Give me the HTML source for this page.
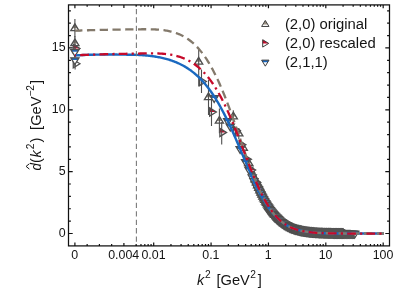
<!DOCTYPE html>
<html><head><meta charset="utf-8"><title>plot</title><style>html,body{margin:0;padding:0;background:#fff}body{width:395px;height:299px;overflow:hidden}svg{display:block;font-family:"Liberation Sans",sans-serif;will-change:transform}.n{fill:#fff;stroke:#3e3e3e;stroke-width:.95}.m{fill:#fff;stroke:#4e4e4e;stroke-width:1.3}.e{stroke:#4e4e4e;stroke-width:1.1;fill:none}.a{fill:#968c7e}.b{fill:#c60a2a}.c{fill:#1a69c0}.p{fill:#fff}</style></head><body>
<svg width="395" height="299" viewBox="0 0 395 299">
<defs><clipPath id="pl"><rect x="68.5" y="4.9" width="321.0" height="241.0"/></clipPath></defs>
<rect width="395" height="299" fill="#fff"/>
<g clip-path="url(#pl)"><path d="M252.0 172.17L253.0 174.63L254.0 177.06L255.0 179.44L256.0 181.77L257.0 184.06L258.0 186.30" fill="none" stroke="#545454" stroke-width="6" stroke-linecap="round"/><path d="M257.0 184.06L258.0 186.30L259.0 188.48L260.0 190.61L261.0 192.68L262.0 194.69L263.0 196.64L264.0 198.52L265.0 200.35L266.0 202.11L267.0 203.81L268.0 205.44L269.0 207.01L270.0 208.51L271.0 209.95L272.0 211.33L273.0 212.65L274.0 213.90" fill="none" stroke="#545454" stroke-width="8.2" stroke-linecap="round"/><path d="M273.0 212.65L274.0 213.90L275.0 215.10L276.0 216.24L277.0 217.32L278.0 218.34L279.0 219.32L280.0 220.24L281.0 221.11L282.0 221.93L283.0 222.71L284.0 223.44L285.0 224.13L286.0 224.78L287.0 225.39L288.0 225.96L289.0 226.50L290.0 227.01L291.0 227.48L292.0 227.92L293.0 228.33L294.0 228.72L295.0 229.08L296.0 229.41L297.0 229.73L298.0 230.02L299.0 230.29L300.0 230.54L301.0 230.78L302.0 231.00L303.0 231.20L304.0 231.39L305.0 231.56L306.0 231.72L307.0 231.87L308.0 232.01L309.0 232.14L310.0 232.26L311.0 232.37L312.0 232.47L313.0 232.56L314.0 232.65L315.0 232.73L316.0 232.80L317.0 232.87L318.0 232.93L319.0 232.98L320.0 233.04L321.0 233.08L322.0 233.13L323.0 233.17L324.0 233.20L325.0 233.24L326.0 233.27L327.0 233.30L328.0 233.32L329.0 233.34L330.0 233.37L331.0 233.38L332.0 233.40L333.0 233.42L334.0 233.43L335.0 233.44L336.0 233.46L337.0 233.47L338.0 233.48L339.0 233.48L340.0 233.49L341.0 233.50L342.0 233.51L343.0 233.51L344.0 233.52L345.0 233.52L346.0 233.52L347.0 233.53L348.0 233.53L349.0 233.53L350.0 233.53" fill="none" stroke="#545454" stroke-width="7.5" stroke-linecap="round"/><path d="M74.90 23.85l4.09 6.69h-8.17z" fill="#fff"/><path d="M74.90 23.85l2.72 4.45h-5.44z" fill="#968c7e"/><path d="M74.90 23.85l4.09 6.69h-8.17z" fill="none" stroke="#4e4e4e" stroke-width="1.3"/><path d="M74.90 38.95l4.09 6.69h-8.17z" fill="#fff"/><path d="M74.90 38.95l2.72 4.45h-5.44z" fill="#968c7e"/><path d="M74.90 38.95l4.09 6.69h-8.17z" fill="none" stroke="#4e4e4e" stroke-width="1.3"/><path d="M198.65 57.35l4.09 6.69h-8.17z" fill="#fff"/><path d="M198.65 57.35l2.72 4.45h-5.44z" fill="#968c7e"/><path d="M198.65 57.35l4.09 6.69h-8.17z" fill="none" stroke="#4e4e4e" stroke-width="1.3"/><path d="M208.50 92.85l4.09 6.69h-8.17z" fill="#fff"/><path d="M208.50 92.85l2.72 4.45h-5.44z" fill="#968c7e"/><path d="M208.50 92.85l4.09 6.69h-8.17z" fill="none" stroke="#4e4e4e" stroke-width="1.3"/><path d="M219.40 116.45l4.09 6.69h-8.17z" fill="#fff"/><path d="M219.40 116.45l2.72 4.45h-5.44z" fill="#968c7e"/><path d="M219.40 116.45l4.09 6.69h-8.17z" fill="none" stroke="#4e4e4e" stroke-width="1.3"/><path d="M233.30 112.15l4.09 6.69h-8.17z" fill="#fff"/><path d="M233.30 112.15l2.72 4.45h-5.44z" fill="#968c7e"/><path d="M233.30 112.15l4.09 6.69h-8.17z" fill="none" stroke="#4e4e4e" stroke-width="1.3"/><path d="M238.80 129.15l4.09 6.69h-8.17z" fill="#fff"/><path d="M238.80 129.15l2.72 4.45h-5.44z" fill="#968c7e"/><path d="M238.80 129.15l4.09 6.69h-8.17z" fill="none" stroke="#4e4e4e" stroke-width="1.3"/><path d="M243.31 143.55l4.09 6.69h-8.17z" fill="#fff"/><path d="M243.31 143.55l2.72 4.45h-5.44z" fill="#968c7e"/><path d="M243.31 143.55l4.09 6.69h-8.17z" fill="none" stroke="#4e4e4e" stroke-width="1.3"/><path d="M248.71 158.75l4.09 6.69h-8.17z" fill="#fff"/><path d="M248.71 158.75l2.72 4.45h-5.44z" fill="#968c7e"/><path d="M248.71 158.75l4.09 6.69h-8.17z" fill="none" stroke="#4e4e4e" stroke-width="1.3"/><path class="e" d="M74.9 18.9V37.5"/><path class="e" d="M74.9 36.0V50.0"/><path class="e" d="M198.7 49.0V86.5"/><path class="e" d="M208.5 80.0V115.0"/><path class="e" d="M219.4 108.4V133.2"/><path class="e" d="M233.3 110.3V122.6"/><path class="e" d="M238.8 128.0V139.3"/><path class="e" d="M243.3 145.0V151.0"/><path class="e" d="M248.7 160.2V166.2"/><path class="m" d="M255.05 175.18l4.09 6.69h-8.17z"/><path class="a" d="M255.05 176.24l2.07 3.39h-4.15z"/><path class="m" d="M256.33 178.24l4.09 6.69h-8.17z"/><path class="a" d="M256.33 179.30l2.07 3.39h-4.15z"/><path class="m" d="M257.54 181.06l4.09 6.69h-8.17z"/><path class="a" d="M257.54 182.12l2.07 3.39h-4.15z"/><path class="m" d="M258.70 183.66l4.09 6.69h-8.17z"/><path class="a" d="M258.70 184.73l2.07 3.39h-4.15z"/><path class="m" d="M259.81 186.07l4.09 6.69h-8.17z"/><path class="a" d="M259.81 187.13l2.07 3.39h-4.15z"/><path class="m" d="M260.87 188.30l4.09 6.69h-8.17z"/><path class="a" d="M260.87 189.36l2.07 3.39h-4.15z"/><path class="m" d="M261.89 190.37l4.09 6.69h-8.17z"/><path class="a" d="M261.89 191.43l2.07 3.39h-4.15z"/><path class="m" d="M262.86 192.30l4.09 6.69h-8.17z"/><path class="a" d="M262.86 193.36l2.07 3.39h-4.15z"/><path class="m" d="M263.81 194.08l4.09 6.69h-8.17z"/><path class="a" d="M263.81 195.15l2.07 3.39h-4.15z"/><path class="m" d="M264.71 195.75l4.09 6.69h-8.17z"/><path class="a" d="M264.71 196.81l2.07 3.39h-4.15z"/><path class="m" d="M265.59 197.31l4.09 6.69h-8.17z"/><path class="a" d="M265.59 198.37l2.07 3.39h-4.15z"/><path class="m" d="M266.43 198.76l4.09 6.69h-8.17z"/><path class="a" d="M266.43 199.82l2.07 3.39h-4.15z"/><path class="m" d="M267.25 200.12l4.09 6.69h-8.17z"/><path class="a" d="M267.25 201.18l2.07 3.39h-4.15z"/><path class="m" d="M268.04 201.39l4.09 6.69h-8.17z"/><path class="a" d="M268.04 202.46l2.07 3.39h-4.15z"/><path class="m" d="M268.80 202.59l4.09 6.69h-8.17z"/><path class="a" d="M268.80 203.65l2.07 3.39h-4.15z"/><path class="m" d="M269.55 203.71l4.09 6.69h-8.17z"/><path class="a" d="M269.55 204.77l2.07 3.39h-4.15z"/><path class="m" d="M270.27 204.77l4.09 6.69h-8.17z"/><path class="a" d="M270.27 205.83l2.07 3.39h-4.15z"/><path class="m" d="M270.97 205.76l4.09 6.69h-8.17z"/><path class="a" d="M270.97 206.82l2.07 3.39h-4.15z"/><path class="m" d="M271.66 206.69l4.09 6.69h-8.17z"/><path class="a" d="M271.66 207.76l2.07 3.39h-4.15z"/><path class="m" d="M272.32 207.58l4.09 6.69h-8.17z"/><path class="a" d="M272.32 208.64l2.07 3.39h-4.15z"/><path class="m" d="M272.97 208.41l4.09 6.69h-8.17z"/><path class="a" d="M272.97 209.47l2.07 3.39h-4.15z"/><path class="m" d="M273.60 209.20l4.09 6.69h-8.17z"/><path class="a" d="M273.60 210.26l2.07 3.39h-4.15z"/><path class="m" d="M274.21 209.94l4.09 6.69h-8.17z"/><path class="a" d="M274.21 211.00l2.07 3.39h-4.15z"/><path class="m" d="M274.81 210.64l4.09 6.69h-8.17z"/><path class="a" d="M274.81 211.71l2.07 3.39h-4.15z"/><path class="m" d="M275.97 211.95l4.09 6.69h-8.17z"/><path class="a" d="M275.97 213.01l2.07 3.39h-4.15z"/><path class="m" d="M277.08 213.12l4.09 6.69h-8.17z"/><path class="a" d="M277.08 214.18l2.07 3.39h-4.15z"/><path class="m" d="M278.14 214.18l4.09 6.69h-8.17z"/><path class="a" d="M278.14 215.24l2.07 3.39h-4.15z"/><path class="m" d="M279.16 215.14l4.09 6.69h-8.17z"/><path class="a" d="M279.16 216.20l2.07 3.39h-4.15z"/><path class="m" d="M280.13 216.01l4.09 6.69h-8.17z"/><path class="a" d="M280.13 217.08l2.07 3.39h-4.15z"/><path class="m" d="M281.08 216.81l4.09 6.69h-8.17z"/><path class="a" d="M281.08 217.87l2.07 3.39h-4.15z"/><path class="m" d="M281.98 217.54l4.09 6.69h-8.17z"/><path class="a" d="M281.98 218.60l2.07 3.39h-4.15z"/><path class="m" d="M282.86 218.21l4.09 6.69h-8.17z"/><path class="a" d="M282.86 219.27l2.07 3.39h-4.15z"/><path class="m" d="M283.70 218.82l4.09 6.69h-8.17z"/><path class="a" d="M283.70 219.88l2.07 3.39h-4.15z"/><path class="m" d="M284.52 219.38l4.09 6.69h-8.17z"/><path class="a" d="M284.52 220.45l2.07 3.39h-4.15z"/><path class="m" d="M285.31 219.91l4.09 6.69h-8.17z"/><path class="a" d="M285.31 220.97l2.07 3.39h-4.15z"/><path class="m" d="M286.07 220.39l4.09 6.69h-8.17z"/><path class="a" d="M286.07 221.45l2.07 3.39h-4.15z"/><path class="m" d="M286.82 220.83l4.09 6.69h-8.17z"/><path class="a" d="M286.82 221.89l2.07 3.39h-4.15z"/><path class="m" d="M287.54 221.25l4.09 6.69h-8.17z"/><path class="a" d="M287.54 222.31l2.07 3.39h-4.15z"/><path class="m" d="M288.24 221.63l4.09 6.69h-8.17z"/><path class="a" d="M288.24 222.69l2.07 3.39h-4.15z"/><path class="m" d="M288.93 221.99l4.09 6.69h-8.17z"/><path class="a" d="M288.93 223.05l2.07 3.39h-4.15z"/><path class="m" d="M289.59 222.32l4.09 6.69h-8.17z"/><path class="a" d="M289.59 223.38l2.07 3.39h-4.15z"/><path class="m" d="M290.24 222.63l4.09 6.69h-8.17z"/><path class="a" d="M290.24 223.69l2.07 3.39h-4.15z"/><path class="m" d="M290.87 222.92l4.09 6.69h-8.17z"/><path class="a" d="M290.87 223.98l2.07 3.39h-4.15z"/><path class="m" d="M291.48 223.19l4.09 6.69h-8.17z"/><path class="a" d="M291.48 224.26l2.07 3.39h-4.15z"/><path class="m" d="M292.08 223.45l4.09 6.69h-8.17z"/><path class="a" d="M292.08 224.51l2.07 3.39h-4.15z"/><path class="m" d="M292.96 223.80l4.09 6.69h-8.17z"/><path class="a" d="M292.96 224.87l2.07 3.39h-4.15z"/><path class="m" d="M293.80 224.13l4.09 6.69h-8.17z"/><path class="a" d="M293.80 225.19l2.07 3.39h-4.15z"/><path class="m" d="M294.62 224.42l4.09 6.69h-8.17z"/><path class="a" d="M294.62 225.48l2.07 3.39h-4.15z"/><path class="m" d="M295.41 224.69l4.09 6.69h-8.17z"/><path class="a" d="M295.41 225.76l2.07 3.39h-4.15z"/><path class="m" d="M296.18 224.94l4.09 6.69h-8.17z"/><path class="a" d="M296.18 226.00l2.07 3.39h-4.15z"/><path class="m" d="M296.92 225.17l4.09 6.69h-8.17z"/><path class="a" d="M296.92 226.23l2.07 3.39h-4.15z"/><path class="m" d="M297.64 225.38l4.09 6.69h-8.17z"/><path class="a" d="M297.64 226.44l2.07 3.39h-4.15z"/><path class="m" d="M298.35 225.58l4.09 6.69h-8.17z"/><path class="a" d="M298.35 226.64l2.07 3.39h-4.15z"/><path class="m" d="M299.03 225.76l4.09 6.69h-8.17z"/><path class="a" d="M299.03 226.82l2.07 3.39h-4.15z"/><path class="m" d="M299.69 225.93l4.09 6.69h-8.17z"/><path class="a" d="M299.69 226.99l2.07 3.39h-4.15z"/><path class="m" d="M300.34 226.08l4.09 6.69h-8.17z"/><path class="a" d="M300.34 227.14l2.07 3.39h-4.15z"/><path class="m" d="M300.97 226.23l4.09 6.69h-8.17z"/><path class="a" d="M300.97 227.29l2.07 3.39h-4.15z"/><path class="m" d="M301.59 226.36l4.09 6.69h-8.17z"/><path class="a" d="M301.59 227.43l2.07 3.39h-4.15z"/><path class="m" d="M302.19 226.49l4.09 6.69h-8.17z"/><path class="a" d="M302.19 227.55l2.07 3.39h-4.15z"/><path class="m" d="M302.96 226.65l4.09 6.69h-8.17z"/><path class="a" d="M302.96 227.71l2.07 3.39h-4.15z"/><path class="m" d="M303.72 226.79l4.09 6.69h-8.17z"/><path class="a" d="M303.72 227.85l2.07 3.39h-4.15z"/><path class="m" d="M304.45 226.92l4.09 6.69h-8.17z"/><path class="a" d="M304.45 227.98l2.07 3.39h-4.15z"/><path class="m" d="M305.16 227.04l4.09 6.69h-8.17z"/><path class="a" d="M305.16 228.10l2.07 3.39h-4.15z"/><path class="m" d="M305.86 227.15l4.09 6.69h-8.17z"/><path class="a" d="M305.86 228.21l2.07 3.39h-4.15z"/><path class="m" d="M306.53 227.26l4.09 6.69h-8.17z"/><path class="a" d="M306.53 228.32l2.07 3.39h-4.15z"/><path class="m" d="M307.19 227.35l4.09 6.69h-8.17z"/><path class="a" d="M307.19 228.41l2.07 3.39h-4.15z"/><path class="m" d="M307.82 227.44l4.09 6.69h-8.17z"/><path class="a" d="M307.82 228.50l2.07 3.39h-4.15z"/><path class="m" d="M308.45 227.52l4.09 6.69h-8.17z"/><path class="a" d="M308.45 228.58l2.07 3.39h-4.15z"/><path class="m" d="M309.06 227.60l4.09 6.69h-8.17z"/><path class="a" d="M309.06 228.66l2.07 3.39h-4.15z"/><path class="m" d="M309.79 227.69l4.09 6.69h-8.17z"/><path class="a" d="M309.79 228.75l2.07 3.39h-4.15z"/><path class="m" d="M310.51 227.77l4.09 6.69h-8.17z"/><path class="a" d="M310.51 228.83l2.07 3.39h-4.15z"/><path class="m" d="M311.21 227.85l4.09 6.69h-8.17z"/><path class="a" d="M311.21 228.91l2.07 3.39h-4.15z"/><path class="m" d="M311.89 227.91l4.09 6.69h-8.17z"/><path class="a" d="M311.89 228.98l2.07 3.39h-4.15z"/><path class="m" d="M312.55 227.98l4.09 6.69h-8.17z"/><path class="a" d="M312.55 229.04l2.07 3.39h-4.15z"/><path class="m" d="M313.19 228.04l4.09 6.69h-8.17z"/><path class="a" d="M313.19 229.10l2.07 3.39h-4.15z"/><path class="m" d="M313.82 228.09l4.09 6.69h-8.17z"/><path class="a" d="M313.82 229.15l2.07 3.39h-4.15z"/><path class="m" d="M314.43 228.14l4.09 6.69h-8.17z"/><path class="a" d="M314.43 229.20l2.07 3.39h-4.15z"/><path class="m" d="M315.15 228.20l4.09 6.69h-8.17z"/><path class="a" d="M315.15 229.26l2.07 3.39h-4.15z"/><path class="m" d="M315.84 228.25l4.09 6.69h-8.17z"/><path class="a" d="M315.84 229.31l2.07 3.39h-4.15z"/><path class="m" d="M316.52 228.30l4.09 6.69h-8.17z"/><path class="a" d="M316.52 229.36l2.07 3.39h-4.15z"/><path class="m" d="M317.18 228.34l4.09 6.69h-8.17z"/><path class="a" d="M317.18 229.40l2.07 3.39h-4.15z"/><path class="m" d="M317.82 228.38l4.09 6.69h-8.17z"/><path class="a" d="M317.82 229.44l2.07 3.39h-4.15z"/><path class="m" d="M318.45 228.42l4.09 6.69h-8.17z"/><path class="a" d="M318.45 229.48l2.07 3.39h-4.15z"/><path class="m" d="M319.06 228.46l4.09 6.69h-8.17z"/><path class="a" d="M319.06 229.52l2.07 3.39h-4.15z"/><path class="m" d="M319.75 228.49l4.09 6.69h-8.17z"/><path class="a" d="M319.75 229.55l2.07 3.39h-4.15z"/><path class="m" d="M320.43 228.53l4.09 6.69h-8.17z"/><path class="a" d="M320.43 229.59l2.07 3.39h-4.15z"/><path class="m" d="M321.08 228.56l4.09 6.69h-8.17z"/><path class="a" d="M321.08 229.62l2.07 3.39h-4.15z"/><path class="m" d="M321.72 228.59l4.09 6.69h-8.17z"/><path class="a" d="M321.72 229.65l2.07 3.39h-4.15z"/><path class="m" d="M322.35 228.62l4.09 6.69h-8.17z"/><path class="a" d="M322.35 229.68l2.07 3.39h-4.15z"/><path class="m" d="M322.96 228.64l4.09 6.69h-8.17z"/><path class="a" d="M322.96 229.70l2.07 3.39h-4.15z"/><path class="m" d="M323.63 228.67l4.09 6.69h-8.17z"/><path class="a" d="M323.63 229.73l2.07 3.39h-4.15z"/><path class="m" d="M324.29 228.69l4.09 6.69h-8.17z"/><path class="a" d="M324.29 229.75l2.07 3.39h-4.15z"/><path class="m" d="M324.94 228.72l4.09 6.69h-8.17z"/><path class="a" d="M324.94 229.78l2.07 3.39h-4.15z"/><path class="m" d="M325.56 228.74l4.09 6.69h-8.17z"/><path class="a" d="M325.56 229.80l2.07 3.39h-4.15z"/><path class="m" d="M326.17 228.76l4.09 6.69h-8.17z"/><path class="a" d="M326.17 229.82l2.07 3.39h-4.15z"/><path class="m" d="M326.85 228.78l4.09 6.69h-8.17z"/><path class="a" d="M326.85 229.84l2.07 3.39h-4.15z"/><path class="m" d="M327.50 228.79l4.09 6.69h-8.17z"/><path class="a" d="M327.50 229.85l2.07 3.39h-4.15z"/><path class="m" d="M328.13 228.81l4.09 6.69h-8.17z"/><path class="a" d="M328.13 229.87l2.07 3.39h-4.15z"/><path class="m" d="M328.75 228.83l4.09 6.69h-8.17z"/><path class="a" d="M328.75 229.89l2.07 3.39h-4.15z"/><path class="m" d="M329.36 228.84l4.09 6.69h-8.17z"/><path class="a" d="M329.36 229.90l2.07 3.39h-4.15z"/><path class="m" d="M330.02 228.86l4.09 6.69h-8.17z"/><path class="a" d="M330.02 229.92l2.07 3.39h-4.15z"/><path class="m" d="M330.65 228.87l4.09 6.69h-8.17z"/><path class="a" d="M330.65 229.93l2.07 3.39h-4.15z"/><path class="m" d="M331.28 228.88l4.09 6.69h-8.17z"/><path class="a" d="M331.28 229.94l2.07 3.39h-4.15z"/><path class="m" d="M331.89 228.89l4.09 6.69h-8.17z"/><path class="a" d="M331.89 229.95l2.07 3.39h-4.15z"/><path class="m" d="M332.54 228.90l4.09 6.69h-8.17z"/><path class="a" d="M332.54 229.97l2.07 3.39h-4.15z"/><path class="m" d="M333.17 228.92l4.09 6.69h-8.17z"/><path class="a" d="M333.17 229.98l2.07 3.39h-4.15z"/><path class="m" d="M333.79 228.93l4.09 6.69h-8.17z"/><path class="a" d="M333.79 229.99l2.07 3.39h-4.15z"/><path class="m" d="M334.40 228.93l4.09 6.69h-8.17z"/><path class="a" d="M334.40 230.00l2.07 3.39h-4.15z"/><path class="m" d="M335.04 228.94l4.09 6.69h-8.17z"/><path class="a" d="M335.04 230.01l2.07 3.39h-4.15z"/><path class="m" d="M335.67 228.95l4.09 6.69h-8.17z"/><path class="a" d="M335.67 230.01l2.07 3.39h-4.15z"/><path class="m" d="M336.28 228.96l4.09 6.69h-8.17z"/><path class="a" d="M336.28 230.02l2.07 3.39h-4.15z"/><path class="m" d="M336.92 228.97l4.09 6.69h-8.17z"/><path class="a" d="M336.92 230.03l2.07 3.39h-4.15z"/><path class="m" d="M337.55 228.97l4.09 6.69h-8.17z"/><path class="a" d="M337.55 230.04l2.07 3.39h-4.15z"/><path class="m" d="M338.17 228.98l4.09 6.69h-8.17z"/><path class="a" d="M338.17 230.04l2.07 3.39h-4.15z"/><path class="m" d="M338.81 228.99l4.09 6.69h-8.17z"/><path class="a" d="M338.81 230.05l2.07 3.39h-4.15z"/><path class="m" d="M339.44 228.99l4.09 6.69h-8.17z"/><path class="a" d="M339.44 230.05l2.07 3.39h-4.15z"/><path class="m" d="M340.05 229.00l4.09 6.69h-8.17z"/><path class="a" d="M340.05 230.06l2.07 3.39h-4.15z"/><path class="m" d="M340.69 229.00l4.09 6.69h-8.17z"/><path class="a" d="M340.69 230.07l2.07 3.39h-4.15z"/><path class="m" d="M341.32 229.01l4.09 6.69h-8.17z"/><path class="a" d="M341.32 230.07l2.07 3.39h-4.15z"/><path class="m" d="M341.93 229.01l4.09 6.69h-8.17z"/><path class="a" d="M341.93 230.07l2.07 3.39h-4.15z"/><path class="m" d="M342.56 229.02l4.09 6.69h-8.17z"/><path class="a" d="M342.56 230.08l2.07 3.39h-4.15z"/><path class="m" d="M343.18 229.02l4.09 6.69h-8.17z"/><path class="a" d="M343.18 230.08l2.07 3.39h-4.15z"/><path d="M73.27 44.41l6.69 4.09l-6.69 4.09z" fill="#fff"/><path d="M73.27 44.41l6.69 4.09h-6.69z" fill="#c60a2a"/><path d="M73.27 44.41l6.69 4.09l-6.69 4.09z" fill="none" stroke="#4e4e4e" stroke-width="1.3"/><path d="M73.27 59.71l6.69 4.09l-6.69 4.09z" fill="#fff"/><path d="M73.27 59.71l6.69 4.09l-6.69 4.09z" fill="none" stroke="#4e4e4e" stroke-width="1.3"/><path d="M199.67 77.41l6.69 4.09l-6.69 4.09z" fill="#fff"/><path d="M199.67 77.41l6.69 4.09l-6.69 4.09z" fill="none" stroke="#4e4e4e" stroke-width="1.3"/><path d="M209.67 107.91l6.69 4.09l-6.69 4.09z" fill="#fff"/><path d="M209.67 107.91l6.69 4.09h-6.69z" fill="#c60a2a"/><path d="M209.67 107.91l6.69 4.09l-6.69 4.09z" fill="none" stroke="#4e4e4e" stroke-width="1.3"/><path d="M219.87 128.31l6.69 4.09l-6.69 4.09z" fill="#fff"/><path d="M219.87 128.31l6.69 4.09h-6.69z" fill="#c60a2a"/><path d="M219.87 128.31l6.69 4.09l-6.69 4.09z" fill="none" stroke="#4e4e4e" stroke-width="1.3"/><path d="M233.65 126.41l6.69 4.09l-6.69 4.09z" fill="#fff"/><path d="M233.65 126.41l6.69 4.09h-6.69z" fill="#c60a2a"/><path d="M233.65 126.41l6.69 4.09l-6.69 4.09z" fill="none" stroke="#4e4e4e" stroke-width="1.3"/><path d="M239.15 140.61l6.69 4.09l-6.69 4.09z" fill="#fff"/><path d="M239.15 140.61l6.69 4.09h-6.69z" fill="#c60a2a"/><path d="M239.15 140.61l6.69 4.09l-6.69 4.09z" fill="none" stroke="#4e4e4e" stroke-width="1.3"/><path d="M244.72 155.21l6.69 4.09l-6.69 4.09z" fill="#fff"/><path d="M244.72 155.21l6.69 4.09h-6.69z" fill="#c60a2a"/><path d="M244.72 155.21l6.69 4.09l-6.69 4.09z" fill="none" stroke="#4e4e4e" stroke-width="1.3"/><path d="M248.90 165.91l6.69 4.09l-6.69 4.09z" fill="#fff"/><path d="M248.90 165.91l6.69 4.09h-6.69z" fill="#c60a2a"/><path d="M248.90 165.91l6.69 4.09l-6.69 4.09z" fill="none" stroke="#4e4e4e" stroke-width="1.3"/><path d="M254.04 178.31l6.69 4.09l-6.69 4.09z" fill="#fff"/><path d="M254.04 178.31l6.69 4.09h-6.69z" fill="#c60a2a"/><path d="M254.04 178.31l6.69 4.09l-6.69 4.09z" fill="none" stroke="#4e4e4e" stroke-width="1.3"/><path class="e" d="M75.1 44.0V53.0"/><path class="e" d="M75.1 58.0V69.5"/><path class="e" d="M201.5 69.5V93.0"/><path class="e" d="M211.5 98.0V126.0"/><path class="e" d="M221.7 122.0V144.5"/><path class="e" d="M235.5 127.5V133.5"/><path class="e" d="M241.0 141.7V147.7"/><path class="e" d="M246.6 156.3V162.3"/><path class="e" d="M250.7 167.0V173.0"/><path class="e" d="M255.9 179.4V185.4"/><path class="m" d="M255.82 182.32l6.69 4.09l-6.69 4.09z"/><path class="b" d="M256.35 183.30l5.09 3.11h-5.09z"/><path class="m" d="M257.10 185.10l6.69 4.09l-6.69 4.09z"/><path class="b" d="M257.63 186.07l5.09 3.11h-5.09z"/><path class="m" d="M258.31 187.65l6.69 4.09l-6.69 4.09z"/><path class="b" d="M258.85 188.63l5.09 3.11h-5.09z"/><path class="m" d="M259.47 190.01l6.69 4.09l-6.69 4.09z"/><path class="b" d="M260.01 190.98l5.09 3.11h-5.09z"/><path class="m" d="M260.58 192.18l6.69 4.09l-6.69 4.09z"/><path class="b" d="M261.11 193.16l5.09 3.11h-5.09z"/><path class="m" d="M261.64 194.20l6.69 4.09l-6.69 4.09z"/><path class="b" d="M262.17 195.17l5.09 3.11h-5.09z"/><path class="m" d="M262.65 196.06l6.69 4.09l-6.69 4.09z"/><path class="b" d="M263.19 197.04l5.09 3.11h-5.09z"/><path class="m" d="M263.63 197.79l6.69 4.09l-6.69 4.09z"/><path class="b" d="M264.17 198.76l5.09 3.11h-5.09z"/><path class="m" d="M264.57 199.39l6.69 4.09l-6.69 4.09z"/><path class="b" d="M265.11 200.37l5.09 3.11h-5.09z"/><path class="m" d="M265.48 200.89l6.69 4.09l-6.69 4.09z"/><path class="b" d="M266.02 201.86l5.09 3.11h-5.09z"/><path class="m" d="M266.35 202.28l6.69 4.09l-6.69 4.09z"/><path class="b" d="M266.89 203.25l5.09 3.11h-5.09z"/><path class="m" d="M267.20 203.57l6.69 4.09l-6.69 4.09z"/><path class="b" d="M267.73 204.55l5.09 3.11h-5.09z"/><path class="m" d="M268.01 204.79l6.69 4.09l-6.69 4.09z"/><path class="b" d="M268.55 205.76l5.09 3.11h-5.09z"/><path class="m" d="M268.81 205.92l6.69 4.09l-6.69 4.09z"/><path class="b" d="M269.34 206.89l5.09 3.11h-5.09z"/><path class="m" d="M269.57 206.98l6.69 4.09l-6.69 4.09z"/><path class="b" d="M270.11 207.95l5.09 3.11h-5.09z"/><path class="m" d="M270.32 207.97l6.69 4.09l-6.69 4.09z"/><path class="b" d="M270.85 208.95l5.09 3.11h-5.09z"/><path class="m" d="M271.04 208.91l6.69 4.09l-6.69 4.09z"/><path class="b" d="M271.58 209.88l5.09 3.11h-5.09z"/><path class="m" d="M271.74 209.78l6.69 4.09l-6.69 4.09z"/><path class="b" d="M272.28 210.76l5.09 3.11h-5.09z"/><path class="m" d="M272.42 210.61l6.69 4.09l-6.69 4.09z"/><path class="b" d="M272.96 211.58l5.09 3.11h-5.09z"/><path class="m" d="M273.09 211.38l6.69 4.09l-6.69 4.09z"/><path class="b" d="M273.62 212.36l5.09 3.11h-5.09z"/><path class="m" d="M273.73 212.11l6.69 4.09l-6.69 4.09z"/><path class="b" d="M274.27 213.09l5.09 3.11h-5.09z"/><path class="m" d="M274.37 212.80l6.69 4.09l-6.69 4.09z"/><path class="b" d="M274.90 213.78l5.09 3.11h-5.09z"/><path class="m" d="M274.98 213.45l6.69 4.09l-6.69 4.09z"/><path class="b" d="M275.52 214.43l5.09 3.11h-5.09z"/><path class="m" d="M275.58 214.07l6.69 4.09l-6.69 4.09z"/><path class="b" d="M276.12 215.05l5.09 3.11h-5.09z"/><path class="m" d="M276.74 215.20l6.69 4.09l-6.69 4.09z"/><path class="b" d="M277.28 216.18l5.09 3.11h-5.09z"/><path class="m" d="M277.85 216.22l6.69 4.09l-6.69 4.09z"/><path class="b" d="M278.38 217.20l5.09 3.11h-5.09z"/><path class="m" d="M278.91 217.14l6.69 4.09l-6.69 4.09z"/><path class="b" d="M279.44 218.12l5.09 3.11h-5.09z"/><path class="m" d="M279.92 217.97l6.69 4.09l-6.69 4.09z"/><path class="b" d="M280.46 218.95l5.09 3.11h-5.09z"/><path class="m" d="M280.90 218.72l6.69 4.09l-6.69 4.09z"/><path class="b" d="M281.44 219.70l5.09 3.11h-5.09z"/><path class="m" d="M281.84 219.41l6.69 4.09l-6.69 4.09z"/><path class="b" d="M282.38 220.38l5.09 3.11h-5.09z"/><path class="m" d="M282.75 220.03l6.69 4.09l-6.69 4.09z"/><path class="b" d="M283.29 221.01l5.09 3.11h-5.09z"/><path class="m" d="M283.62 220.60l6.69 4.09l-6.69 4.09z"/><path class="b" d="M284.16 221.58l5.09 3.11h-5.09z"/><path class="m" d="M284.47 221.13l6.69 4.09l-6.69 4.09z"/><path class="b" d="M285.00 222.10l5.09 3.11h-5.09z"/><path class="m" d="M285.28 221.60l6.69 4.09l-6.69 4.09z"/><path class="b" d="M285.82 222.58l5.09 3.11h-5.09z"/><path class="m" d="M286.08 222.05l6.69 4.09l-6.69 4.09z"/><path class="b" d="M286.61 223.02l5.09 3.11h-5.09z"/><path class="m" d="M286.84 222.45l6.69 4.09l-6.69 4.09z"/><path class="b" d="M287.38 223.43l5.09 3.11h-5.09z"/><path class="m" d="M287.59 222.83l6.69 4.09l-6.69 4.09z"/><path class="b" d="M288.12 223.81l5.09 3.11h-5.09z"/><path class="m" d="M288.31 223.18l6.69 4.09l-6.69 4.09z"/><path class="b" d="M288.85 224.15l5.09 3.11h-5.09z"/><path class="m" d="M289.01 223.50l6.69 4.09l-6.69 4.09z"/><path class="b" d="M289.55 224.48l5.09 3.11h-5.09z"/><path class="m" d="M289.69 223.80l6.69 4.09l-6.69 4.09z"/><path class="b" d="M290.23 224.78l5.09 3.11h-5.09z"/><path class="m" d="M290.36 224.08l6.69 4.09l-6.69 4.09z"/><path class="b" d="M290.89 225.05l5.09 3.11h-5.09z"/><path class="m" d="M291.00 224.34l6.69 4.09l-6.69 4.09z"/><path class="b" d="M291.54 225.31l5.09 3.11h-5.09z"/><path class="m" d="M291.64 224.58l6.69 4.09l-6.69 4.09z"/><path class="b" d="M292.17 225.56l5.09 3.11h-5.09z"/><path class="m" d="M292.25 224.81l6.69 4.09l-6.69 4.09z"/><path class="b" d="M292.79 225.78l5.09 3.11h-5.09z"/><path class="m" d="M292.85 225.02l6.69 4.09l-6.69 4.09z"/><path class="b" d="M293.39 226.00l5.09 3.11h-5.09z"/><path class="m" d="M293.73 225.31l6.69 4.09l-6.69 4.09z"/><path class="b" d="M294.26 226.29l5.09 3.11h-5.09z"/><path class="m" d="M294.57 225.58l6.69 4.09l-6.69 4.09z"/><path class="b" d="M295.11 226.56l5.09 3.11h-5.09z"/><path class="m" d="M295.39 225.82l6.69 4.09l-6.69 4.09z"/><path class="b" d="M295.92 226.80l5.09 3.11h-5.09z"/><path class="m" d="M296.18 226.05l6.69 4.09l-6.69 4.09z"/><path class="b" d="M296.71 227.02l5.09 3.11h-5.09z"/><path class="m" d="M296.94 226.25l6.69 4.09l-6.69 4.09z"/><path class="b" d="M297.48 227.23l5.09 3.11h-5.09z"/><path class="m" d="M297.69 226.44l6.69 4.09l-6.69 4.09z"/><path class="b" d="M298.23 227.41l5.09 3.11h-5.09z"/><path class="m" d="M298.41 226.61l6.69 4.09l-6.69 4.09z"/><path class="b" d="M298.95 227.59l5.09 3.11h-5.09z"/><path class="m" d="M299.11 226.77l6.69 4.09l-6.69 4.09z"/><path class="b" d="M299.65 227.74l5.09 3.11h-5.09z"/><path class="m" d="M299.80 226.92l6.69 4.09l-6.69 4.09z"/><path class="b" d="M300.33 227.89l5.09 3.11h-5.09z"/><path class="m" d="M300.46 227.05l6.69 4.09l-6.69 4.09z"/><path class="b" d="M301.00 228.03l5.09 3.11h-5.09z"/><path class="m" d="M301.11 227.18l6.69 4.09l-6.69 4.09z"/><path class="b" d="M301.64 228.15l5.09 3.11h-5.09z"/><path class="m" d="M301.74 227.29l6.69 4.09l-6.69 4.09z"/><path class="b" d="M302.27 228.27l5.09 3.11h-5.09z"/><path class="m" d="M302.35 227.40l6.69 4.09l-6.69 4.09z"/><path class="b" d="M302.89 228.38l5.09 3.11h-5.09z"/><path class="m" d="M302.95 227.51l6.69 4.09l-6.69 4.09z"/><path class="b" d="M303.49 228.48l5.09 3.11h-5.09z"/><path class="m" d="M303.73 227.63l6.69 4.09l-6.69 4.09z"/><path class="b" d="M304.27 228.61l5.09 3.11h-5.09z"/><path class="m" d="M304.49 227.74l6.69 4.09l-6.69 4.09z"/><path class="b" d="M305.02 228.72l5.09 3.11h-5.09z"/><path class="m" d="M305.22 227.85l6.69 4.09l-6.69 4.09z"/><path class="b" d="M305.76 228.83l5.09 3.11h-5.09z"/><path class="m" d="M305.93 227.95l6.69 4.09l-6.69 4.09z"/><path class="b" d="M306.47 228.92l5.09 3.11h-5.09z"/><path class="m" d="M306.62 228.03l6.69 4.09l-6.69 4.09z"/><path class="b" d="M307.16 229.01l5.09 3.11h-5.09z"/><path class="m" d="M307.30 228.12l6.69 4.09l-6.69 4.09z"/><path class="b" d="M307.83 229.09l5.09 3.11h-5.09z"/><path class="m" d="M307.95 228.19l6.69 4.09l-6.69 4.09z"/><path class="b" d="M308.49 229.17l5.09 3.11h-5.09z"/><path class="m" d="M308.59 228.26l6.69 4.09l-6.69 4.09z"/><path class="b" d="M309.13 229.24l5.09 3.11h-5.09z"/><path class="m" d="M309.21 228.33l6.69 4.09l-6.69 4.09z"/><path class="b" d="M309.75 229.30l5.09 3.11h-5.09z"/><path class="m" d="M309.82 228.39l6.69 4.09l-6.69 4.09z"/><path class="b" d="M310.36 229.36l5.09 3.11h-5.09z"/><path class="m" d="M310.56 228.45l6.69 4.09l-6.69 4.09z"/><path class="b" d="M311.10 229.43l5.09 3.11h-5.09z"/><path class="m" d="M311.28 228.52l6.69 4.09l-6.69 4.09z"/><path class="b" d="M311.82 229.49l5.09 3.11h-5.09z"/><path class="m" d="M311.98 228.58l6.69 4.09l-6.69 4.09z"/><path class="b" d="M312.51 229.55l5.09 3.11h-5.09z"/><path class="m" d="M312.66 228.63l6.69 4.09l-6.69 4.09z"/><path class="b" d="M313.19 229.61l5.09 3.11h-5.09z"/><path class="m" d="M313.32 228.68l6.69 4.09l-6.69 4.09z"/><path class="b" d="M313.85 229.66l5.09 3.11h-5.09z"/><path class="m" d="M313.96 228.72l6.69 4.09l-6.69 4.09z"/><path class="b" d="M314.50 229.70l5.09 3.11h-5.09z"/><path class="m" d="M314.59 228.77l6.69 4.09l-6.69 4.09z"/><path class="b" d="M315.13 229.74l5.09 3.11h-5.09z"/><path class="m" d="M315.20 228.81l6.69 4.09l-6.69 4.09z"/><path class="b" d="M315.74 229.78l5.09 3.11h-5.09z"/><path class="m" d="M315.92 228.85l6.69 4.09l-6.69 4.09z"/><path class="b" d="M316.45 229.82l5.09 3.11h-5.09z"/><path class="m" d="M316.61 228.89l6.69 4.09l-6.69 4.09z"/><path class="b" d="M317.15 229.86l5.09 3.11h-5.09z"/><path class="m" d="M317.29 228.92l6.69 4.09l-6.69 4.09z"/><path class="b" d="M317.83 229.90l5.09 3.11h-5.09z"/><path class="m" d="M317.95 228.96l6.69 4.09l-6.69 4.09z"/><path class="b" d="M318.48 229.93l5.09 3.11h-5.09z"/><path class="m" d="M318.59 228.99l6.69 4.09l-6.69 4.09z"/><path class="b" d="M319.13 229.96l5.09 3.11h-5.09z"/><path class="m" d="M319.21 229.02l6.69 4.09l-6.69 4.09z"/><path class="b" d="M319.75 229.99l5.09 3.11h-5.09z"/><path class="m" d="M319.82 229.04l6.69 4.09l-6.69 4.09z"/><path class="b" d="M320.36 230.02l5.09 3.11h-5.09z"/><path class="m" d="M320.52 229.07l6.69 4.09l-6.69 4.09z"/><path class="b" d="M321.06 230.05l5.09 3.11h-5.09z"/><path class="m" d="M321.19 229.10l6.69 4.09l-6.69 4.09z"/><path class="b" d="M321.73 230.07l5.09 3.11h-5.09z"/><path class="m" d="M321.85 229.12l6.69 4.09l-6.69 4.09z"/><path class="b" d="M322.39 230.10l5.09 3.11h-5.09z"/><path class="m" d="M322.49 229.14l6.69 4.09l-6.69 4.09z"/><path class="b" d="M323.03 230.12l5.09 3.11h-5.09z"/><path class="m" d="M323.11 229.16l6.69 4.09l-6.69 4.09z"/><path class="b" d="M323.65 230.14l5.09 3.11h-5.09z"/><path class="m" d="M323.72 229.18l6.69 4.09l-6.69 4.09z"/><path class="b" d="M324.26 230.16l5.09 3.11h-5.09z"/><path class="m" d="M324.40 229.20l6.69 4.09l-6.69 4.09z"/><path class="b" d="M324.94 230.17l5.09 3.11h-5.09z"/><path class="m" d="M325.06 229.22l6.69 4.09l-6.69 4.09z"/><path class="b" d="M325.60 230.19l5.09 3.11h-5.09z"/><path class="m" d="M325.70 229.23l6.69 4.09l-6.69 4.09z"/><path class="b" d="M326.24 230.21l5.09 3.11h-5.09z"/><path class="m" d="M326.33 229.25l6.69 4.09l-6.69 4.09z"/><path class="b" d="M326.87 230.22l5.09 3.11h-5.09z"/><path class="m" d="M326.94 229.26l6.69 4.09l-6.69 4.09z"/><path class="b" d="M327.48 230.24l5.09 3.11h-5.09z"/><path class="m" d="M327.61 229.28l6.69 4.09l-6.69 4.09z"/><path class="b" d="M328.15 230.25l5.09 3.11h-5.09z"/><path class="m" d="M328.27 229.29l6.69 4.09l-6.69 4.09z"/><path class="b" d="M328.80 230.26l5.09 3.11h-5.09z"/><path class="m" d="M328.90 229.30l6.69 4.09l-6.69 4.09z"/><path class="b" d="M329.44 230.28l5.09 3.11h-5.09z"/><path class="m" d="M329.52 229.31l6.69 4.09l-6.69 4.09z"/><path class="b" d="M330.06 230.29l5.09 3.11h-5.09z"/><path class="m" d="M330.13 229.32l6.69 4.09l-6.69 4.09z"/><path class="b" d="M330.66 230.30l5.09 3.11h-5.09z"/><path class="m" d="M330.78 229.33l6.69 4.09l-6.69 4.09z"/><path class="b" d="M331.32 230.31l5.09 3.11h-5.09z"/><path class="m" d="M331.42 229.34l6.69 4.09l-6.69 4.09z"/><path class="b" d="M331.96 230.32l5.09 3.11h-5.09z"/><path class="m" d="M332.04 229.35l6.69 4.09l-6.69 4.09z"/><path class="b" d="M332.58 230.32l5.09 3.11h-5.09z"/><path class="m" d="M332.65 229.36l6.69 4.09l-6.69 4.09z"/><path class="b" d="M333.19 230.33l5.09 3.11h-5.09z"/><path class="m" d="M333.30 229.36l6.69 4.09l-6.69 4.09z"/><path class="b" d="M333.84 230.34l5.09 3.11h-5.09z"/><path class="m" d="M333.94 229.37l6.69 4.09l-6.69 4.09z"/><path class="b" d="M334.48 230.35l5.09 3.11h-5.09z"/><path class="m" d="M334.56 229.38l6.69 4.09l-6.69 4.09z"/><path class="b" d="M335.10 230.35l5.09 3.11h-5.09z"/><path class="m" d="M335.16 229.38l6.69 4.09l-6.69 4.09z"/><path class="b" d="M335.70 230.36l5.09 3.11h-5.09z"/><path class="m" d="M335.81 229.39l6.69 4.09l-6.69 4.09z"/><path class="b" d="M336.34 230.37l5.09 3.11h-5.09z"/><path class="m" d="M336.43 229.40l6.69 4.09l-6.69 4.09z"/><path class="b" d="M336.97 230.37l5.09 3.11h-5.09z"/><path class="m" d="M337.04 229.40l6.69 4.09l-6.69 4.09z"/><path class="b" d="M337.58 230.38l5.09 3.11h-5.09z"/><path class="m" d="M337.69 229.40l6.69 4.09l-6.69 4.09z"/><path class="b" d="M338.23 230.38l5.09 3.11h-5.09z"/><path class="m" d="M338.32 229.41l6.69 4.09l-6.69 4.09z"/><path class="b" d="M338.86 230.39l5.09 3.11h-5.09z"/><path class="m" d="M338.93 229.41l6.69 4.09l-6.69 4.09z"/><path class="b" d="M339.47 230.39l5.09 3.11h-5.09z"/><path class="m" d="M339.58 229.42l6.69 4.09l-6.69 4.09z"/><path class="b" d="M340.12 230.39l5.09 3.11h-5.09z"/><path class="m" d="M340.21 229.42l6.69 4.09l-6.69 4.09z"/><path class="b" d="M340.74 230.40l5.09 3.11h-5.09z"/><path class="m" d="M340.82 229.42l6.69 4.09l-6.69 4.09z"/><path class="b" d="M341.36 230.40l5.09 3.11h-5.09z"/><path class="m" d="M341.46 229.43l6.69 4.09l-6.69 4.09z"/><path class="b" d="M342.00 230.40l5.09 3.11h-5.09z"/><path class="m" d="M342.09 229.43l6.69 4.09l-6.69 4.09z"/><path class="b" d="M342.62 230.41l5.09 3.11h-5.09z"/><path class="m" d="M342.69 229.43l6.69 4.09l-6.69 4.09z"/><path class="b" d="M343.23 230.41l5.09 3.11h-5.09z"/><path class="m" d="M343.33 229.43l6.69 4.09l-6.69 4.09z"/><path class="b" d="M343.87 230.41l5.09 3.11h-5.09z"/><path class="m" d="M343.95 229.44l6.69 4.09l-6.69 4.09z"/><path class="b" d="M344.48 230.41l5.09 3.11h-5.09z"/><path class="e" d="M74.9 47.0V57.0"/><path class="e" d="M74.9 55.0V66.0"/><path class="e" d="M214.2 95.0V101.0"/><path class="e" d="M227.7 118.5V123.5"/><path class="e" d="M230.3 124.0V129.0"/><path class="e" d="M240.1 146.5V151.5"/><path class="e" d="M245.6 159.5V164.5"/><path class="e" d="M248.9 167.0V172.0"/><path d="M70.81 49.57h8.17l-4.09 6.69z" fill="#fff"/><path d="M70.81 49.57h8.17l-1.37 2.23h-5.44z" fill="#1a69c0"/><path d="M70.81 49.57h8.17l-4.09 6.69z" fill="none" stroke="#4e4e4e" stroke-width="1.3"/><path d="M70.81 57.87h8.17l-4.09 6.69z" fill="#fff"/><path d="M70.81 57.87h8.17l-1.37 2.23h-5.44z" fill="#1a69c0"/><path d="M70.81 57.87h8.17l-4.09 6.69z" fill="none" stroke="#4e4e4e" stroke-width="1.3"/><path d="M210.11 95.77h8.17l-4.09 6.69z" fill="#fff"/><path d="M210.11 95.77h8.17l-1.37 2.23h-5.44z" fill="#1a69c0"/><path d="M210.11 95.77h8.17l-4.09 6.69z" fill="none" stroke="#4e4e4e" stroke-width="1.3"/><path d="M223.60 118.77h8.17l-4.09 6.69z" fill="#fff"/><path d="M223.60 118.77h8.17l-1.37 2.23h-5.44z" fill="#1a69c0"/><path d="M223.60 118.77h8.17l-4.09 6.69z" fill="none" stroke="#4e4e4e" stroke-width="1.3"/><path d="M226.19 124.27h8.17l-4.09 6.69z" fill="#fff"/><path d="M226.19 124.27h8.17l-1.37 2.23h-5.44z" fill="#1a69c0"/><path d="M226.19 124.27h8.17l-4.09 6.69z" fill="none" stroke="#4e4e4e" stroke-width="1.3"/><path d="M236.05 146.77h8.17l-4.09 6.69z" fill="#fff"/><path d="M236.05 146.77h8.17l-1.37 2.23h-5.44z" fill="#1a69c0"/><path d="M236.05 146.77h8.17l-4.09 6.69z" fill="none" stroke="#4e4e4e" stroke-width="1.3"/><path d="M241.55 159.77h8.17l-4.09 6.69z" fill="#fff"/><path d="M241.55 159.77h8.17l-1.37 2.23h-5.44z" fill="#1a69c0"/><path d="M241.55 159.77h8.17l-4.09 6.69z" fill="none" stroke="#4e4e4e" stroke-width="1.3"/><path d="M244.77 167.27h8.17l-4.09 6.69z" fill="#fff"/><path d="M244.77 167.27h8.17l-1.37 2.23h-5.44z" fill="#1a69c0"/><path d="M244.77 167.27h8.17l-4.09 6.69z" fill="none" stroke="#4e4e4e" stroke-width="1.3"/><path class="m" d="M248.13 174.84h8.17l-4.09 6.69z"/><path class="c" d="M249.11 175.38h6.22l-1.04 1.7h-4.15z"/><path class="m" d="M249.85 178.59h8.17l-4.09 6.69z"/><path class="c" d="M250.83 179.13h6.22l-1.04 1.7h-4.15z"/><path class="m" d="M251.46 182.00h8.17l-4.09 6.69z"/><path class="c" d="M252.43 182.54h6.22l-1.04 1.7h-4.15z"/><path class="m" d="M252.97 185.11h8.17l-4.09 6.69z"/><path class="c" d="M253.95 185.65h6.22l-1.04 1.7h-4.15z"/><path class="m" d="M254.39 187.95h8.17l-4.09 6.69z"/><path class="c" d="M255.37 188.49h6.22l-1.04 1.7h-4.15z"/><path class="m" d="M255.74 190.56h8.17l-4.09 6.69z"/><path class="c" d="M256.72 191.09h6.22l-1.04 1.7h-4.15z"/><path class="m" d="M257.02 192.95h8.17l-4.09 6.69z"/><path class="c" d="M257.99 193.48h6.22l-1.04 1.7h-4.15z"/><path class="m" d="M258.23 195.14h8.17l-4.09 6.69z"/><path class="c" d="M259.21 195.68h6.22l-1.04 1.7h-4.15z"/><path class="m" d="M259.39 197.16h8.17l-4.09 6.69z"/><path class="c" d="M260.37 197.70h6.22l-1.04 1.7h-4.15z"/><path class="m" d="M260.50 199.03h8.17l-4.09 6.69z"/><path class="c" d="M261.48 199.56h6.22l-1.04 1.7h-4.15z"/><path class="m" d="M261.56 200.75h8.17l-4.09 6.69z"/><path class="c" d="M262.54 201.29h6.22l-1.04 1.7h-4.15z"/><path class="m" d="M262.58 202.35h8.17l-4.09 6.69z"/><path class="c" d="M263.55 202.88h6.22l-1.04 1.7h-4.15z"/><path class="m" d="M263.56 203.83h8.17l-4.09 6.69z"/><path class="c" d="M264.53 204.36h6.22l-1.04 1.7h-4.15z"/><path class="m" d="M264.50 205.20h8.17l-4.09 6.69z"/><path class="c" d="M265.47 205.74h6.22l-1.04 1.7h-4.15z"/><path class="m" d="M265.40 206.48h8.17l-4.09 6.69z"/><path class="c" d="M266.38 207.02h6.22l-1.04 1.7h-4.15z"/><path class="m" d="M266.28 207.67h8.17l-4.09 6.69z"/><path class="c" d="M267.25 208.21h6.22l-1.04 1.7h-4.15z"/><path class="m" d="M267.12 208.78h8.17l-4.09 6.69z"/><path class="c" d="M268.10 209.32h6.22l-1.04 1.7h-4.15z"/><path class="m" d="M267.94 209.82h8.17l-4.09 6.69z"/><path class="c" d="M268.91 210.36h6.22l-1.04 1.7h-4.15z"/><path class="m" d="M268.73 210.79h8.17l-4.09 6.69z"/><path class="c" d="M269.70 211.33h6.22l-1.04 1.7h-4.15z"/><path class="m" d="M269.50 211.70h8.17l-4.09 6.69z"/><path class="c" d="M270.47 212.24h6.22l-1.04 1.7h-4.15z"/><path class="m" d="M270.24 212.56h8.17l-4.09 6.69z"/><path class="c" d="M271.22 213.09h6.22l-1.04 1.7h-4.15z"/><path class="m" d="M270.96 213.36h8.17l-4.09 6.69z"/><path class="c" d="M271.94 213.90h6.22l-1.04 1.7h-4.15z"/><path class="m" d="M271.66 214.11h8.17l-4.09 6.69z"/><path class="c" d="M272.64 214.65h6.22l-1.04 1.7h-4.15z"/><path class="m" d="M272.35 214.82h8.17l-4.09 6.69z"/><path class="c" d="M273.32 215.36h6.22l-1.04 1.7h-4.15z"/><path class="m" d="M273.01 215.49h8.17l-4.09 6.69z"/><path class="c" d="M273.99 216.03h6.22l-1.04 1.7h-4.15z"/><path class="m" d="M273.66 216.12h8.17l-4.09 6.69z"/><path class="c" d="M274.63 216.66h6.22l-1.04 1.7h-4.15z"/><path class="m" d="M274.29 216.71h8.17l-4.09 6.69z"/><path class="c" d="M275.26 217.25h6.22l-1.04 1.7h-4.15z"/><path class="m" d="M274.90 217.28h8.17l-4.09 6.69z"/><path class="c" d="M275.88 217.81h6.22l-1.04 1.7h-4.15z"/><path class="m" d="M275.50 217.81h8.17l-4.09 6.69z"/><path class="c" d="M276.48 218.34h6.22l-1.04 1.7h-4.15z"/><path class="m" d="M276.66 218.79h8.17l-4.09 6.69z"/><path class="c" d="M277.64 219.32h6.22l-1.04 1.7h-4.15z"/><path class="m" d="M277.77 219.67h8.17l-4.09 6.69z"/><path class="c" d="M278.75 220.21h6.22l-1.04 1.7h-4.15z"/><path class="m" d="M278.83 220.47h8.17l-4.09 6.69z"/><path class="c" d="M279.81 221.00h6.22l-1.04 1.7h-4.15z"/><path class="m" d="M279.85 221.19h8.17l-4.09 6.69z"/><path class="c" d="M280.82 221.72h6.22l-1.04 1.7h-4.15z"/><path class="m" d="M280.83 221.84h8.17l-4.09 6.69z"/><path class="c" d="M281.80 222.38h6.22l-1.04 1.7h-4.15z"/><path class="m" d="M281.77 222.44h8.17l-4.09 6.69z"/><path class="c" d="M282.74 222.97h6.22l-1.04 1.7h-4.15z"/><path class="m" d="M282.67 222.98h8.17l-4.09 6.69z"/><path class="c" d="M283.65 223.52h6.22l-1.04 1.7h-4.15z"/><path class="m" d="M283.55 223.48h8.17l-4.09 6.69z"/><path class="c" d="M284.52 224.01h6.22l-1.04 1.7h-4.15z"/><path class="m" d="M284.39 223.93h8.17l-4.09 6.69z"/><path class="c" d="M285.37 224.47h6.22l-1.04 1.7h-4.15z"/><path class="m" d="M285.21 224.35h8.17l-4.09 6.69z"/><path class="c" d="M286.18 224.89h6.22l-1.04 1.7h-4.15z"/><path class="m" d="M286.00 224.74h8.17l-4.09 6.69z"/><path class="c" d="M286.98 225.28h6.22l-1.04 1.7h-4.15z"/><path class="m" d="M286.77 225.10h8.17l-4.09 6.69z"/><path class="c" d="M287.74 225.63h6.22l-1.04 1.7h-4.15z"/><path class="m" d="M287.51 225.43h8.17l-4.09 6.69z"/><path class="c" d="M288.49 225.96h6.22l-1.04 1.7h-4.15z"/><path class="m" d="M288.23 225.73h8.17l-4.09 6.69z"/><path class="c" d="M289.21 226.27h6.22l-1.04 1.7h-4.15z"/><path class="m" d="M288.93 226.02h8.17l-4.09 6.69z"/><path class="c" d="M289.91 226.55h6.22l-1.04 1.7h-4.15z"/><path class="m" d="M289.62 226.28h8.17l-4.09 6.69z"/><path class="c" d="M290.59 226.82h6.22l-1.04 1.7h-4.15z"/><path class="m" d="M290.28 226.53h8.17l-4.09 6.69z"/><path class="c" d="M291.26 227.06h6.22l-1.04 1.7h-4.15z"/><path class="m" d="M290.93 226.76h8.17l-4.09 6.69z"/><path class="c" d="M291.90 227.29h6.22l-1.04 1.7h-4.15z"/><path class="m" d="M291.56 226.97h8.17l-4.09 6.69z"/><path class="c" d="M292.53 227.51h6.22l-1.04 1.7h-4.15z"/><path class="m" d="M292.17 227.17h8.17l-4.09 6.69z"/><path class="c" d="M293.15 227.71h6.22l-1.04 1.7h-4.15z"/><path class="m" d="M292.77 227.36h8.17l-4.09 6.69z"/><path class="c" d="M293.75 227.89h6.22l-1.04 1.7h-4.15z"/><path class="m" d="M293.65 227.62h8.17l-4.09 6.69z"/><path class="c" d="M294.62 228.15h6.22l-1.04 1.7h-4.15z"/><path class="m" d="M294.49 227.85h8.17l-4.09 6.69z"/><path class="c" d="M295.47 228.39h6.22l-1.04 1.7h-4.15z"/><path class="m" d="M295.31 228.07h8.17l-4.09 6.69z"/><path class="c" d="M296.29 228.61h6.22l-1.04 1.7h-4.15z"/><path class="m" d="M296.10 228.27h8.17l-4.09 6.69z"/><path class="c" d="M297.08 228.80h6.22l-1.04 1.7h-4.15z"/><path class="m" d="M296.87 228.45h8.17l-4.09 6.69z"/><path class="c" d="M297.84 228.98h6.22l-1.04 1.7h-4.15z"/><path class="m" d="M297.61 228.61h8.17l-4.09 6.69z"/><path class="c" d="M298.59 229.15h6.22l-1.04 1.7h-4.15z"/><path class="m" d="M298.33 228.77h8.17l-4.09 6.69z"/><path class="c" d="M299.31 229.30h6.22l-1.04 1.7h-4.15z"/><path class="m" d="M299.04 228.91h8.17l-4.09 6.69z"/><path class="c" d="M300.01 229.45h6.22l-1.04 1.7h-4.15z"/><path class="m" d="M299.72 229.04h8.17l-4.09 6.69z"/><path class="c" d="M300.69 229.58h6.22l-1.04 1.7h-4.15z"/><path class="m" d="M300.38 229.16h8.17l-4.09 6.69z"/><path class="c" d="M301.36 229.70h6.22l-1.04 1.7h-4.15z"/><path class="m" d="M301.03 229.27h8.17l-4.09 6.69z"/><path class="c" d="M302.01 229.81h6.22l-1.04 1.7h-4.15z"/><path class="m" d="M301.66 229.38h8.17l-4.09 6.69z"/><path class="c" d="M302.64 229.92h6.22l-1.04 1.7h-4.15z"/><path class="m" d="M302.28 229.48h8.17l-4.09 6.69z"/><path class="c" d="M303.25 230.01h6.22l-1.04 1.7h-4.15z"/><path class="m" d="M302.88 229.57h8.17l-4.09 6.69z"/><path class="c" d="M303.85 230.10h6.22l-1.04 1.7h-4.15z"/><path class="m" d="M303.66 229.68h8.17l-4.09 6.69z"/><path class="c" d="M304.63 230.22h6.22l-1.04 1.7h-4.15z"/><path class="m" d="M304.41 229.78h8.17l-4.09 6.69z"/><path class="c" d="M305.39 230.32h6.22l-1.04 1.7h-4.15z"/><path class="m" d="M305.14 229.88h8.17l-4.09 6.69z"/><path class="c" d="M306.12 230.41h6.22l-1.04 1.7h-4.15z"/><path class="m" d="M305.86 229.96h8.17l-4.09 6.69z"/><path class="c" d="M306.83 230.50h6.22l-1.04 1.7h-4.15z"/><path class="m" d="M306.55 230.04h8.17l-4.09 6.69z"/><path class="c" d="M307.52 230.58h6.22l-1.04 1.7h-4.15z"/><path class="m" d="M307.22 230.11h8.17l-4.09 6.69z"/><path class="c" d="M308.20 230.65h6.22l-1.04 1.7h-4.15z"/><path class="m" d="M307.88 230.18h8.17l-4.09 6.69z"/><path class="c" d="M308.85 230.72h6.22l-1.04 1.7h-4.15z"/><path class="m" d="M308.52 230.25h8.17l-4.09 6.69z"/><path class="c" d="M309.49 230.78h6.22l-1.04 1.7h-4.15z"/><path class="m" d="M309.14 230.30h8.17l-4.09 6.69z"/><path class="c" d="M310.11 230.84h6.22l-1.04 1.7h-4.15z"/><path class="m" d="M309.75 230.36h8.17l-4.09 6.69z"/><path class="c" d="M310.72 230.89h6.22l-1.04 1.7h-4.15z"/><path class="m" d="M310.49 230.42h8.17l-4.09 6.69z"/><path class="c" d="M311.46 230.96h6.22l-1.04 1.7h-4.15z"/><path class="m" d="M311.20 230.48h8.17l-4.09 6.69z"/><path class="c" d="M312.18 231.01h6.22l-1.04 1.7h-4.15z"/><path class="m" d="M311.90 230.53h8.17l-4.09 6.69z"/><path class="c" d="M312.88 231.07h6.22l-1.04 1.7h-4.15z"/><path class="m" d="M312.58 230.58h8.17l-4.09 6.69z"/><path class="c" d="M313.56 231.11h6.22l-1.04 1.7h-4.15z"/><path class="m" d="M313.24 230.62h8.17l-4.09 6.69z"/><path class="c" d="M314.22 231.16h6.22l-1.04 1.7h-4.15z"/><path class="m" d="M313.89 230.66h8.17l-4.09 6.69z"/><path class="c" d="M314.86 231.20h6.22l-1.04 1.7h-4.15z"/><path class="m" d="M314.51 230.70h8.17l-4.09 6.69z"/><path class="c" d="M315.49 231.24h6.22l-1.04 1.7h-4.15z"/><path class="m" d="M315.13 230.74h8.17l-4.09 6.69z"/><path class="c" d="M316.10 231.27h6.22l-1.04 1.7h-4.15z"/><path class="m" d="M315.84 230.77h8.17l-4.09 6.69z"/><path class="c" d="M316.82 231.31h6.22l-1.04 1.7h-4.15z"/><path class="m" d="M316.54 230.81h8.17l-4.09 6.69z"/><path class="c" d="M317.51 231.35h6.22l-1.04 1.7h-4.15z"/><path class="m" d="M317.21 230.84h8.17l-4.09 6.69z"/><path class="c" d="M318.19 231.38h6.22l-1.04 1.7h-4.15z"/><path class="m" d="M317.87 230.87h8.17l-4.09 6.69z"/><path class="c" d="M318.85 231.41h6.22l-1.04 1.7h-4.15z"/><path class="m" d="M318.51 230.90h8.17l-4.09 6.69z"/><path class="c" d="M319.49 231.44h6.22l-1.04 1.7h-4.15z"/><path class="m" d="M319.14 230.92h8.17l-4.09 6.69z"/><path class="c" d="M320.11 231.46h6.22l-1.04 1.7h-4.15z"/><path class="m" d="M319.75 230.95h8.17l-4.09 6.69z"/><path class="c" d="M320.72 231.48h6.22l-1.04 1.7h-4.15z"/><path class="m" d="M320.44 230.97h8.17l-4.09 6.69z"/><path class="c" d="M321.42 231.51h6.22l-1.04 1.7h-4.15z"/><path class="m" d="M321.12 231.00h8.17l-4.09 6.69z"/><path class="c" d="M322.09 231.53h6.22l-1.04 1.7h-4.15z"/><path class="m" d="M321.77 231.02h8.17l-4.09 6.69z"/><path class="c" d="M322.75 231.55h6.22l-1.04 1.7h-4.15z"/><path class="m" d="M322.41 231.04h8.17l-4.09 6.69z"/><path class="c" d="M323.39 231.57h6.22l-1.04 1.7h-4.15z"/><path class="m" d="M323.04 231.05h8.17l-4.09 6.69z"/><path class="c" d="M324.01 231.59h6.22l-1.04 1.7h-4.15z"/><path class="m" d="M323.65 231.07h8.17l-4.09 6.69z"/><path class="c" d="M324.62 231.61h6.22l-1.04 1.7h-4.15z"/><path class="m" d="M324.32 231.09h8.17l-4.09 6.69z"/><path class="c" d="M325.30 231.63h6.22l-1.04 1.7h-4.15z"/><path class="m" d="M324.98 231.10h8.17l-4.09 6.69z"/><path class="c" d="M325.96 231.64h6.22l-1.04 1.7h-4.15z"/><path class="m" d="M325.63 231.12h8.17l-4.09 6.69z"/><path class="c" d="M326.60 231.66h6.22l-1.04 1.7h-4.15z"/><path class="m" d="M326.25 231.13h8.17l-4.09 6.69z"/><path class="c" d="M327.23 231.67h6.22l-1.04 1.7h-4.15z"/><path class="m" d="M326.87 231.14h8.17l-4.09 6.69z"/><path class="c" d="M327.84 231.68h6.22l-1.04 1.7h-4.15z"/><path class="m" d="M327.54 231.16h8.17l-4.09 6.69z"/><path class="c" d="M328.51 231.69h6.22l-1.04 1.7h-4.15z"/><path class="m" d="M328.19 231.17h8.17l-4.09 6.69z"/><path class="c" d="M329.16 231.71h6.22l-1.04 1.7h-4.15z"/><path class="m" d="M328.83 231.18h8.17l-4.09 6.69z"/><path class="c" d="M329.80 231.72h6.22l-1.04 1.7h-4.15z"/><path class="m" d="M329.45 231.19h8.17l-4.09 6.69z"/><path class="c" d="M330.42 231.73h6.22l-1.04 1.7h-4.15z"/><path class="m" d="M330.05 231.20h8.17l-4.09 6.69z"/><path class="c" d="M331.03 231.73h6.22l-1.04 1.7h-4.15z"/><path class="m" d="M330.71 231.21h8.17l-4.09 6.69z"/><path class="c" d="M331.68 231.74h6.22l-1.04 1.7h-4.15z"/><path class="m" d="M331.35 231.22h8.17l-4.09 6.69z"/><path class="c" d="M332.32 231.75h6.22l-1.04 1.7h-4.15z"/><path class="m" d="M331.97 231.22h8.17l-4.09 6.69z"/><path class="c" d="M332.94 231.76h6.22l-1.04 1.7h-4.15z"/><path class="m" d="M332.58 231.23h8.17l-4.09 6.69z"/><path class="c" d="M333.55 231.77h6.22l-1.04 1.7h-4.15z"/><path class="m" d="M333.23 231.24h8.17l-4.09 6.69z"/><path class="c" d="M334.20 231.77h6.22l-1.04 1.7h-4.15z"/><path class="m" d="M333.86 231.24h8.17l-4.09 6.69z"/><path class="c" d="M334.84 231.78h6.22l-1.04 1.7h-4.15z"/><path class="m" d="M334.48 231.25h8.17l-4.09 6.69z"/><path class="c" d="M335.46 231.79h6.22l-1.04 1.7h-4.15z"/><path class="m" d="M335.09 231.25h8.17l-4.09 6.69z"/><path class="c" d="M336.06 231.79h6.22l-1.04 1.7h-4.15z"/><path class="m" d="M335.73 231.26h8.17l-4.09 6.69z"/><path class="c" d="M336.71 231.80h6.22l-1.04 1.7h-4.15z"/><path class="m" d="M336.36 231.26h8.17l-4.09 6.69z"/><path class="c" d="M337.33 231.80h6.22l-1.04 1.7h-4.15z"/><path class="m" d="M336.97 231.27h8.17l-4.09 6.69z"/><path class="c" d="M337.94 231.80h6.22l-1.04 1.7h-4.15z"/><path class="m" d="M337.61 231.27h8.17l-4.09 6.69z"/><path class="c" d="M338.59 231.81h6.22l-1.04 1.7h-4.15z"/><path class="m" d="M338.24 231.28h8.17l-4.09 6.69z"/><path class="c" d="M339.22 231.81h6.22l-1.04 1.7h-4.15z"/><path class="m" d="M338.86 231.28h8.17l-4.09 6.69z"/><path class="c" d="M339.83 231.82h6.22l-1.04 1.7h-4.15z"/><path class="m" d="M339.50 231.28h8.17l-4.09 6.69z"/><path class="c" d="M340.48 231.82h6.22l-1.04 1.7h-4.15z"/><path class="m" d="M340.13 231.29h8.17l-4.09 6.69z"/><path class="c" d="M341.11 231.82h6.22l-1.04 1.7h-4.15z"/><path class="m" d="M340.74 231.29h8.17l-4.09 6.69z"/><path class="c" d="M341.72 231.83h6.22l-1.04 1.7h-4.15z"/><path class="m" d="M341.38 231.29h8.17l-4.09 6.69z"/><path class="c" d="M342.36 231.83h6.22l-1.04 1.7h-4.15z"/><path class="m" d="M342.01 231.29h8.17l-4.09 6.69z"/><path class="c" d="M342.98 231.83h6.22l-1.04 1.7h-4.15z"/><path class="m" d="M342.62 231.30h8.17l-4.09 6.69z"/><path class="c" d="M343.59 231.83h6.22l-1.04 1.7h-4.15z"/><path class="m" d="M343.25 231.30h8.17l-4.09 6.69z"/><path class="c" d="M344.23 231.83h6.22l-1.04 1.7h-4.15z"/><path class="m" d="M343.87 231.30h8.17l-4.09 6.69z"/><path class="c" d="M344.85 231.84h6.22l-1.04 1.7h-4.15z"/><path class="m" d="M344.47 231.30h8.17l-4.09 6.69z"/><path class="c" d="M345.45 231.84h6.22l-1.04 1.7h-4.15z"/><path class="m" d="M345.10 231.30h8.17l-4.09 6.69z"/><path class="c" d="M346.07 231.84h6.22l-1.04 1.7h-4.15z"/><path class="m" d="M345.71 231.30h8.17l-4.09 6.69z"/><path class="c" d="M346.68 231.84h6.22l-1.04 1.7h-4.15z"/><path class="m" d="M346.34 231.30h8.17l-4.09 6.69z"/><path class="c" d="M347.31 231.84h6.22l-1.04 1.7h-4.15z"/><path class="m" d="M346.95 231.31h8.17l-4.09 6.69z"/><path class="c" d="M347.93 231.84h6.22l-1.04 1.7h-4.15z"/><path class="m" d="M347.59 231.31h8.17l-4.09 6.69z"/><path class="c" d="M348.56 231.84h6.22l-1.04 1.7h-4.15z"/><path class="m" d="M348.20 231.31h8.17l-4.09 6.69z"/><path class="c" d="M349.18 231.84h6.22l-1.04 1.7h-4.15z"/><path class="m" d="M348.80 231.31h8.17l-4.09 6.69z"/><path class="c" d="M349.78 231.84h6.22l-1.04 1.7h-4.15z"/><path class="m" d="M349.42 231.31h8.17l-4.09 6.69z"/><path class="c" d="M350.40 231.85h6.22l-1.04 1.7h-4.15z"/><path class="m" d="M350.03 231.31h8.17l-4.09 6.69z"/><path class="c" d="M351.00 231.85h6.22l-1.04 1.7h-4.15z"/><path class="m" d="M350.64 231.31h8.17l-4.09 6.69z"/><path class="c" d="M351.62 231.85h6.22l-1.04 1.7h-4.15z"/><path d="M299.0 230.14L300.0 230.39L301.0 230.63L302.0 230.85L303.0 231.05L304.0 231.24L305.0 231.41L306.0 231.57L307.0 231.72L308.0 231.86L309.0 231.99L310.0 232.11L311.0 232.22L312.0 232.32L313.0 232.41L314.0 232.50L315.0 232.58L316.0 232.65L317.0 232.72L318.0 232.78L319.0 232.83L320.0 232.89L321.0 232.93L322.0 232.98L323.0 233.02L324.0 233.05L325.0 233.09L326.0 233.12L327.0 233.15L328.0 233.17L329.0 233.19L330.0 233.22L331.0 233.23L332.0 233.25L333.0 233.27L334.0 233.28L335.0 233.29L336.0 233.31L337.0 233.32L338.0 233.33L339.0 233.33L340.0 233.34L341.0 233.35L342.0 233.36L343.0 233.36" fill="none" stroke="#545454" stroke-width="9.4" stroke-linecap="butt"/><path d="M342.0 234.71L343.0 234.71L344.0 234.72L345.0 234.72L346.0 234.72L347.0 234.73L348.0 234.73L349.0 234.73L350.0 234.73L351.0 234.73L352.0 234.74L353.0 234.74L354.0 234.74L354.8 234.74" fill="none" stroke="#545454" stroke-width="7.2" stroke-linecap="butt"/></g>
<path d="M74.9 55.55L75.9 55.47L76.9 55.39L77.9 55.32L78.9 55.25L79.9 55.19L80.9 55.13L81.9 55.08L82.9 55.03L83.9 54.98L84.9 54.94L85.9 54.89L86.9 54.86L87.9 54.82L88.9 54.79L89.9 54.76L90.9 54.73L91.9 54.71L92.9 54.68L93.9 54.66L94.9 54.64L95.9 54.63L96.9 54.61L97.9 54.60L98.9 54.59L99.9 54.58L100.9 54.57L101.9 54.56L102.9 54.55L103.9 54.55L104.9 54.54L105.9 54.54L106.9 54.54L107.9 54.54L108.9 54.54L109.9 54.54L110.9 54.54L111.9 54.54L112.9 54.55L113.9 54.55L114.9 54.56L115.9 54.57L116.9 54.57L117.9 54.58L118.9 54.59L119.9 54.60L120.9 54.61L121.9 54.62L122.9 54.63L123.9 54.64L124.9 54.66L125.9 54.67L126.9 54.68L127.9 54.70L128.9 54.71L129.9 54.73L130.9 54.74L131.9 54.76L132.9 54.77L133.9 54.79L134.9 54.81L135.9 54.83L136.9 54.85L137.9 54.90L138.9 54.95L139.9 55.01L140.9 55.07L141.9 55.14L142.9 55.21L143.9 55.29L144.9 55.37L145.9 55.46L146.9 55.55L147.9 55.65L148.9 55.76L149.9 55.87L150.9 56.00L151.9 56.12L152.9 56.26L153.9 56.40L154.9 56.55L155.9 56.71L156.9 56.88L157.9 57.06L158.9 57.25L159.9 57.44L160.9 57.65L161.9 57.87L162.9 58.09L163.9 58.33L164.9 58.58L165.9 58.84L166.9 59.12L167.9 59.40L168.9 59.70L169.9 60.01L170.9 60.34L171.9 60.68L172.9 61.03L173.9 61.40L174.9 61.79L175.9 62.19L176.9 62.61L177.9 63.05L178.9 63.51L179.9 63.98L180.9 64.47L181.9 64.98L182.9 65.52L183.9 66.07L184.9 66.65L185.9 67.24L186.9 67.86L187.9 68.51L188.9 69.18L189.9 69.87L190.9 70.59L191.9 71.34L192.9 72.11L193.9 72.92L194.9 73.75L195.9 74.61L196.9 75.50L197.9 76.42L198.9 77.37L199.9 78.36L200.9 79.38L201.9 80.43L202.9 81.52L203.9 82.65L204.9 83.81L205.9 85.01L206.9 86.24L207.9 87.52L208.9 88.83L209.9 90.18L210.9 91.57L211.9 93.00L212.9 94.47L213.9 95.99L214.9 97.54L215.9 99.14L216.9 100.78L217.9 102.45L218.9 104.17L219.9 105.94L220.9 107.74L221.9 109.58L222.9 111.46L223.9 113.39L224.9 115.35L225.9 117.35L226.9 119.38L227.9 121.45L228.9 123.56L229.9 125.70L230.9 127.87L231.9 130.06L232.9 132.29L233.9 134.54L234.9 136.82L235.9 139.11L236.9 141.43L237.9 143.76L238.9 146.10L239.9 148.45L240.9 150.81L241.9 153.18L242.9 155.54L243.9 157.91L244.9 160.27L245.9 162.62L246.9 164.96L247.9 167.28L248.9 169.59L249.9 171.87L250.9 174.13L251.9 176.37L252.9 178.57L253.9 180.74L254.9 182.88L255.9 184.97L256.9 187.03L257.9 189.04L258.9 191.01L259.9 192.93L260.9 194.80L261.9 196.62L262.9 198.39L263.9 200.11L264.9 201.77L265.9 203.38L266.9 204.94L267.9 206.44L268.9 207.89L269.9 209.28L270.9 210.62L271.9 211.90L272.9 213.13L273.9 214.30L274.9 215.43L275.9 216.50L276.9 217.53L277.9 218.50L278.9 219.43L279.9 220.31L280.9 221.14L281.9 221.93L282.9 222.69L283.9 223.39L284.9 224.06L285.9 224.70L286.9 225.29L287.9 225.86L288.9 226.39L289.9 226.88L290.9 227.35L291.9 227.79L292.9 228.20L293.9 228.59L294.9 228.95L295.9 229.29L296.9 229.60L297.9 229.90L298.9 230.17L299.9 230.43L300.9 230.67L301.9 230.89L302.9 231.10L303.9 231.29L304.9 231.47L305.9 231.64L306.9 231.79L307.9 231.93L308.9 232.07L309.9 232.19L310.9 232.30L311.9 232.41L312.9 232.51L313.9 232.60L314.9 232.68L315.9 232.76L316.9 232.83L317.9 232.89L318.9 232.95L319.9 233.00L320.9 233.06L321.9 233.10L322.9 233.14L323.9 233.18L324.9 233.22L325.9 233.25L326.9 233.28L327.9 233.31L328.9 233.33L329.9 233.36L330.9 233.38L331.9 233.39L332.9 233.41L333.9 233.43L334.9 233.44L335.9 233.45L336.9 233.46L337.9 233.47L338.9 233.48L339.9 233.49L340.9 233.50L341.9 233.51L342.9 233.51L343.9 233.52L344.9 233.52L345.9 233.53L346.9 233.53L347.9 233.53L348.9 233.53L349.9 233.54L350.9 233.54L351.9 233.54L352.9 233.54L353.9 233.54L354.9 233.54L355.9 233.54L356.9 233.54L357.9 233.54L358.9 233.54L359.9 233.54L360.9 233.54L361.9 233.54L362.9 233.54L363.9 233.54L364.9 233.54L365.9 233.54L366.9 233.54L367.9 233.54L368.9 233.54L369.9 233.54L370.9 233.54L371.9 233.54L372.9 233.54L373.9 233.53L374.9 233.53L375.9 233.53L376.9 233.53L377.9 233.53L378.9 233.53L379.9 233.53L380.9 233.53L381.9 233.53L382.9 233.53L383.9 233.53L384.0 233.53" fill="none" stroke="#1a69c0" stroke-width="2.4"/>
<path d="M74.9 30.71L75.9 30.68L76.9 30.64L77.9 30.60L78.9 30.57L79.9 30.53L80.9 30.50L81.9 30.46L82.9 30.43L83.9 30.39L84.9 30.36L85.9 30.33L86.9 30.30L87.9 30.27L88.9 30.24L89.9 30.21L90.9 30.18L91.9 30.15L92.9 30.12L93.9 30.10L94.9 30.07L95.9 30.04L96.9 30.02L97.9 29.99L98.9 29.97L99.9 29.94L100.9 29.92L101.9 29.89L102.9 29.87L103.9 29.85L104.9 29.83L105.9 29.81L106.9 29.79L107.9 29.77L108.9 29.75L109.9 29.73L110.9 29.71L111.9 29.69L112.9 29.67L113.9 29.65L114.9 29.63L115.9 29.62L116.9 29.60L117.9 29.59L118.9 29.57L119.9 29.55L120.9 29.54L121.9 29.53L122.9 29.51L123.9 29.50L124.9 29.49L125.9 29.47L126.9 29.46L127.9 29.45L128.9 29.44L129.9 29.43L130.9 29.41L131.9 29.40L132.9 29.39L133.9 29.38L134.9 29.37L135.9 29.37L136.9 29.35L137.9 29.33L138.9 29.31L139.9 29.30L140.9 29.28L141.9 29.27L142.9 29.26L143.9 29.25L144.9 29.25L145.9 29.25L146.9 29.25L147.9 29.25L148.9 29.26L149.9 29.28L150.9 29.30L151.9 29.32L152.9 29.35L153.9 29.39L154.9 29.44L155.9 29.49L156.9 29.55L157.9 29.61L158.9 29.69L159.9 29.77L160.9 29.87L161.9 29.98L162.9 30.09L163.9 30.22L164.9 30.36L165.9 30.52L166.9 30.69L167.9 30.87L168.9 31.07L169.9 31.29L170.9 31.52L171.9 31.77L172.9 32.04L173.9 32.33L174.9 32.65L175.9 32.98L176.9 33.33L177.9 33.71L178.9 34.12L179.9 34.55L180.9 35.00L181.9 35.49L182.9 36.00L183.9 36.54L184.9 37.12L185.9 37.72L186.9 38.36L187.9 39.03L188.9 39.74L189.9 40.48L190.9 41.27L191.9 42.09L192.9 42.95L193.9 43.85L194.9 44.79L195.9 45.77L196.9 46.80L197.9 47.88L198.9 49.00L199.9 50.16L200.9 51.38L201.9 52.65L202.9 53.96L203.9 55.33L204.9 56.74L205.9 58.21L206.9 59.74L207.9 61.31L208.9 62.94L209.9 64.63L210.9 66.37L211.9 68.17L212.9 70.02L213.9 71.93L214.9 73.90L215.9 75.92L216.9 78.00L217.9 80.13L218.9 82.32L219.9 84.56L220.9 86.85L221.9 89.20L222.9 91.60L223.9 94.05L224.9 96.54L225.9 99.09L226.9 101.67L227.9 104.30L228.9 106.97L229.9 109.68L230.9 112.42L231.9 115.19L232.9 117.99L233.9 120.82L234.9 123.67L235.9 126.54L236.9 129.42L237.9 132.32L238.9 135.22L239.9 138.12L240.9 141.03L241.9 143.92L242.9 146.81L243.9 149.69L244.9 152.54L245.9 155.38L246.9 158.19L247.9 160.97L248.9 163.71L249.9 166.42L250.9 169.08L251.9 171.70L252.9 174.28L253.9 176.80L254.9 179.27L255.9 181.68L256.9 184.03L257.9 186.32L258.9 188.55L259.9 190.72L260.9 192.82L261.9 194.85L262.9 196.82L263.9 198.72L264.9 200.55L265.9 202.31L266.9 204.00L267.9 205.63L268.9 207.19L269.9 208.68L270.9 210.11L271.9 211.47L272.9 212.78L273.9 214.02L274.9 215.20L275.9 216.32L276.9 217.39L277.9 218.40L278.9 219.35L279.9 220.26L280.9 221.12L281.9 221.93L282.9 222.69L283.9 223.41L284.9 224.09L285.9 224.73L286.9 225.33L287.9 225.90L288.9 226.43L289.9 226.92L290.9 227.39L291.9 227.83L292.9 228.23L293.9 228.62L294.9 228.97L295.9 229.31L296.9 229.62L297.9 229.91L298.9 230.18L299.9 230.43L300.9 230.67L301.9 230.88L302.9 231.09L303.9 231.28L304.9 231.45L305.9 231.61L306.9 231.76L307.9 231.90L308.9 232.03L309.9 232.15L310.9 232.27L311.9 232.37L312.9 232.46L313.9 232.55L314.9 232.63L315.9 232.71L316.9 232.78L317.9 232.84L318.9 232.90L319.9 232.95L320.9 233.00L321.9 233.05L322.9 233.09L323.9 233.13L324.9 233.17L325.9 233.20L326.9 233.23L327.9 233.26L328.9 233.28L329.9 233.31L330.9 233.33L331.9 233.35L332.9 233.36L333.9 233.38L334.9 233.39L335.9 233.41L336.9 233.42L337.9 233.43L338.9 233.44L339.9 233.45L340.9 233.46L341.9 233.47L342.9 233.47L343.9 233.48L344.9 233.48L345.9 233.49L346.9 233.49L347.9 233.50L348.9 233.50L349.9 233.50L350.9 233.51L351.9 233.51L352.9 233.51L353.9 233.51L354.9 233.51L355.9 233.52L356.9 233.52L357.9 233.52L358.9 233.52L359.9 233.52L360.9 233.52L361.9 233.52L362.9 233.52L363.9 233.52L364.9 233.52L365.9 233.52L366.9 233.52L367.9 233.52L368.9 233.52L369.9 233.52L370.9 233.52L371.9 233.52L372.9 233.52L373.9 233.52L374.9 233.52L375.9 233.52L376.9 233.52L377.9 233.52L378.9 233.52L379.9 233.52L380.9 233.52L381.9 233.52L382.9 233.52L383.9 233.52L384.0 233.52" fill="none" stroke="#83796b" stroke-width="2.3" stroke-dasharray="8.24 4.52" stroke-dashoffset="0.7"/>
<path d="M74.9 55.33L75.9 55.28L76.9 55.24L77.9 55.19L78.9 55.15L79.9 55.11L80.9 55.06L81.9 55.02L82.9 54.98L83.9 54.94L84.9 54.90L85.9 54.86L86.9 54.83L87.9 54.79L88.9 54.75L89.9 54.72L90.9 54.68L91.9 54.64L92.9 54.61L93.9 54.58L94.9 54.54L95.9 54.51L96.9 54.48L97.9 54.45L98.9 54.42L99.9 54.39L100.9 54.36L101.9 54.33L102.9 54.30L103.9 54.27L104.9 54.25L105.9 54.22L106.9 54.19L107.9 54.17L108.9 54.14L109.9 54.12L110.9 54.09L111.9 54.07L112.9 54.04L113.9 54.02L114.9 54.00L115.9 53.98L116.9 53.96L117.9 53.94L118.9 53.91L119.9 53.89L120.9 53.88L121.9 53.86L122.9 53.84L123.9 53.82L124.9 53.80L125.9 53.78L126.9 53.77L127.9 53.75L128.9 53.73L129.9 53.72L130.9 53.70L131.9 53.69L132.9 53.67L133.9 53.66L134.9 53.64L135.9 53.63L136.9 53.61L137.9 53.58L138.9 53.55L139.9 53.52L140.9 53.49L141.9 53.46L142.9 53.44L143.9 53.41L144.9 53.39L145.9 53.38L146.9 53.36L147.9 53.35L148.9 53.34L149.9 53.34L150.9 53.33L151.9 53.34L152.9 53.34L153.9 53.36L154.9 53.38L155.9 53.40L156.9 53.43L157.9 53.46L158.9 53.51L159.9 53.56L160.9 53.62L161.9 53.68L162.9 53.76L163.9 53.84L164.9 53.94L165.9 54.04L166.9 54.16L167.9 54.28L168.9 54.42L169.9 54.57L170.9 54.74L171.9 54.92L172.9 55.11L173.9 55.32L174.9 55.54L175.9 55.78L176.9 56.04L177.9 56.32L178.9 56.61L179.9 56.93L180.9 57.26L181.9 57.61L182.9 57.99L183.9 58.39L184.9 58.81L185.9 59.26L186.9 59.73L187.9 60.22L188.9 60.75L189.9 61.30L190.9 61.88L191.9 62.49L192.9 63.13L193.9 63.80L194.9 64.50L195.9 65.24L196.9 66.01L197.9 66.82L198.9 67.66L199.9 68.54L200.9 69.45L201.9 70.41L202.9 71.41L203.9 72.44L204.9 73.52L205.9 74.64L206.9 75.81L207.9 77.02L208.9 78.28L209.9 79.58L210.9 80.93L211.9 82.32L212.9 83.77L213.9 85.27L214.9 86.81L215.9 88.41L216.9 90.05L217.9 91.75L218.9 93.50L219.9 95.30L220.9 97.15L221.9 99.05L222.9 101.00L223.9 103.00L224.9 105.06L225.9 107.16L226.9 109.31L227.9 111.50L228.9 113.74L229.9 116.03L230.9 118.36L231.9 120.73L232.9 123.13L233.9 125.57L234.9 128.05L235.9 130.55L236.9 133.09L237.9 135.65L238.9 138.22L239.9 140.82L240.9 143.43L241.9 146.05L242.9 148.68L243.9 151.31L244.9 153.93L245.9 156.56L246.9 159.17L247.9 161.76L248.9 164.34L249.9 166.90L250.9 169.43L251.9 171.93L252.9 174.39L253.9 176.82L254.9 179.20L255.9 181.54L256.9 183.83L257.9 186.08L258.9 188.26L259.9 190.40L260.9 192.47L261.9 194.49L262.9 196.45L263.9 198.34L264.9 200.17L265.9 201.94L266.9 203.64L267.9 205.28L268.9 206.85L269.9 208.36L270.9 209.81L271.9 211.19L272.9 212.52L273.9 213.78L274.9 214.98L275.9 216.13L276.9 217.21L277.9 218.24L278.9 219.22L279.9 220.15L280.9 221.03L281.9 221.85L282.9 222.63L283.9 223.37L284.9 224.07L285.9 224.72L286.9 225.33L287.9 225.91L288.9 226.45L289.9 226.96L290.9 227.43L291.9 227.88L292.9 228.29L293.9 228.68L294.9 229.04L295.9 229.38L296.9 229.70L297.9 229.99L298.9 230.26L299.9 230.52L300.9 230.76L301.9 230.98L302.9 231.18L303.9 231.37L304.9 231.54L305.9 231.71L306.9 231.86L307.9 232.00L308.9 232.13L309.9 232.25L310.9 232.36L311.9 232.46L312.9 232.55L313.9 232.64L314.9 232.72L315.9 232.79L316.9 232.86L317.9 232.92L318.9 232.98L319.9 233.03L320.9 233.08L321.9 233.12L322.9 233.16L323.9 233.20L324.9 233.23L325.9 233.26L326.9 233.29L327.9 233.32L328.9 233.34L329.9 233.36L330.9 233.38L331.9 233.40L332.9 233.42L333.9 233.43L334.9 233.44L335.9 233.46L336.9 233.47L337.9 233.48L338.9 233.48L339.9 233.49L340.9 233.50L341.9 233.50L342.9 233.51L343.9 233.51L344.9 233.52L345.9 233.52L346.9 233.53L347.9 233.53L348.9 233.53L349.9 233.53L350.9 233.53L351.9 233.54L352.9 233.54L353.9 233.54L354.9 233.54L355.9 233.54L356.9 233.54L357.9 233.54L358.9 233.54L359.9 233.54L360.9 233.54L361.9 233.54L362.9 233.54L363.9 233.54L364.9 233.54L365.9 233.54L366.9 233.54L367.9 233.54L368.9 233.54L369.9 233.53L370.9 233.53L371.9 233.53L372.9 233.53L373.9 233.53L374.9 233.53L375.9 233.53L376.9 233.53L377.9 233.53L378.9 233.53L379.9 233.53L380.9 233.53L381.9 233.53L382.9 233.52L383.9 233.52L384.0 233.52" fill="none" stroke="#c60a2a" stroke-width="2.3" stroke-dasharray="2.2 4.17 8.75 4.17" stroke-dashoffset="1.1"/>
<path d="M136.4 4.9V245.9" stroke="#7a7a7a" stroke-width="1.1" stroke-dasharray="5.3 3.13" stroke-dashoffset="4.43" fill="none"/>
<path d="M74.90 245.95v-3.40M74.90 4.90v3.40M87.15 245.95v-1.90M87.15 4.90v1.90M99.40 245.95v-1.90M99.40 4.90v1.90M111.65 245.95v-1.90M111.65 4.90v1.90M123.90 245.95v-3.00M123.90 4.90v3.00M136.15 245.95v-1.90M136.15 4.90v1.90M140.97 245.95v-1.90M140.97 4.90v1.90M144.81 245.95v-1.90M144.81 4.90v1.90M148.14 245.95v-1.90M148.14 4.90v1.90M151.07 245.95v-1.90M151.07 4.90v1.90M153.70 245.95v-3.40M153.70 4.90v3.40M170.97 245.95v-1.90M170.97 4.90v1.90M181.07 245.95v-1.90M181.07 4.90v1.90M188.24 245.95v-1.90M188.24 4.90v1.90M193.80 245.95v-1.90M193.80 4.90v1.90M198.34 245.95v-1.90M198.34 4.90v1.90M202.18 245.95v-1.90M202.18 4.90v1.90M205.51 245.95v-1.90M205.51 4.90v1.90M208.44 245.95v-1.90M208.44 4.90v1.90M211.07 245.95v-3.40M211.07 4.90v3.40M228.34 245.95v-1.90M228.34 4.90v1.90M238.44 245.95v-1.90M238.44 4.90v1.90M245.61 245.95v-1.90M245.61 4.90v1.90M251.17 245.95v-1.90M251.17 4.90v1.90M255.71 245.95v-1.90M255.71 4.90v1.90M259.55 245.95v-1.90M259.55 4.90v1.90M262.88 245.95v-1.90M262.88 4.90v1.90M265.81 245.95v-1.90M265.81 4.90v1.90M268.44 245.95v-3.40M268.44 4.90v3.40M285.71 245.95v-1.90M285.71 4.90v1.90M295.81 245.95v-1.90M295.81 4.90v1.90M302.98 245.95v-1.90M302.98 4.90v1.90M308.54 245.95v-1.90M308.54 4.90v1.90M313.08 245.95v-1.90M313.08 4.90v1.90M316.92 245.95v-1.90M316.92 4.90v1.90M320.25 245.95v-1.90M320.25 4.90v1.90M323.18 245.95v-1.90M323.18 4.90v1.90M325.81 245.95v-3.40M325.81 4.90v3.40M343.08 245.95v-1.90M343.08 4.90v1.90M353.18 245.95v-1.90M353.18 4.90v1.90M360.35 245.95v-1.90M360.35 4.90v1.90M365.91 245.95v-1.90M365.91 4.90v1.90M370.45 245.95v-1.90M370.45 4.90v1.90M374.29 245.95v-1.90M374.29 4.90v1.90M377.62 245.95v-1.90M377.62 4.90v1.90M380.55 245.95v-1.90M380.55 4.90v1.90M383.18 245.95v-3.40M383.18 4.90v3.40M68.50 233.50h4.20M389.50 233.50h-4.20M68.50 221.13h2.40M389.50 221.13h-2.40M68.50 208.76h2.40M389.50 208.76h-2.40M68.50 196.39h2.40M389.50 196.39h-2.40M68.50 184.02h2.40M389.50 184.02h-2.40M68.50 171.65h4.20M389.50 171.65h-4.20M68.50 159.28h2.40M389.50 159.28h-2.40M68.50 146.91h2.40M389.50 146.91h-2.40M68.50 134.54h2.40M389.50 134.54h-2.40M68.50 122.17h2.40M389.50 122.17h-2.40M68.50 109.80h4.20M389.50 109.80h-4.20M68.50 97.43h2.40M389.50 97.43h-2.40M68.50 85.06h2.40M389.50 85.06h-2.40M68.50 72.69h2.40M389.50 72.69h-2.40M68.50 60.32h2.40M389.50 60.32h-2.40M68.50 47.95h4.20M389.50 47.95h-4.20M68.50 35.58h2.40M389.50 35.58h-2.40M68.50 23.21h2.40M389.50 23.21h-2.40M68.50 10.84h2.40M389.50 10.84h-2.40" stroke="#111" stroke-width="1.2" fill="none"/>
<rect x="68.5" y="4.9" width="321.0" height="241.0" fill="none" stroke="#111" stroke-width="1.25"/>
<g fill="#141414" opacity="0.999">
<text x="74.70" y="258.90" font-size="12.4" text-anchor="middle">0</text>
<text x="123.70" y="258.90" font-size="12.4" text-anchor="middle">0.004</text>
<text x="153.50" y="258.90" font-size="12.4" text-anchor="middle">0.01</text>
<text x="210.87" y="258.90" font-size="12.4" text-anchor="middle">0.1</text>
<text x="268.24" y="258.90" font-size="12.4" text-anchor="middle">1</text>
<text x="325.61" y="258.90" font-size="12.4" text-anchor="middle">10</text>
<text x="382.98" y="258.90" font-size="12.4" text-anchor="middle">100</text>
<text x="65.60" y="236.50" font-size="12.4" text-anchor="end">0</text>
<text x="65.60" y="174.65" font-size="12.4" text-anchor="end">5</text>
<text x="65.60" y="112.80" font-size="12.4" text-anchor="end">10</text>
<text x="65.60" y="50.95" font-size="12.4" text-anchor="end">15</text>
<text x="196.95" y="284.50" font-size="13.9" font-style="italic" textLength="7.25" lengthAdjust="spacingAndGlyphs">k</text>
<text x="205.00" y="278.00" font-size="10.2">2</text>
<text x="216.40" y="284.50" font-size="13.9" textLength="33.45" lengthAdjust="spacingAndGlyphs">[GeV</text>
<text x="250.20" y="278.00" font-size="10.2">2</text>
<text x="257.80" y="284.50" font-size="13.9" textLength="4.03" lengthAdjust="spacingAndGlyphs">]</text>
<g transform="translate(40.5 170.4) rotate(-90)">
<text x="0.00" y="0.00" font-size="13.9" font-style="italic" textLength="7.3" lengthAdjust="spacingAndGlyphs">d</text>
<path d="M1.3 -11.1L4 -14.4L6.7 -11.1" fill="none" stroke="#141414" stroke-width="1"/>
<text x="7.30" y="0.00" font-size="13.9" textLength="4.83" lengthAdjust="spacingAndGlyphs">(</text>
<text x="12.80" y="0.00" font-size="13.9" font-style="italic" textLength="7.25" lengthAdjust="spacingAndGlyphs">k</text>
<text x="21.20" y="-6.90" font-size="10.2">2</text>
<text x="27.85" y="0.00" font-size="13.9" textLength="4.83" lengthAdjust="spacingAndGlyphs">)</text>
<text x="40.50" y="0.00" font-size="13.9" textLength="33.45" lengthAdjust="spacingAndGlyphs">[GeV</text>
<text x="74.30" y="-6.90" font-size="10.2">−</text>
<text x="79.60" y="-6.90" font-size="10.2">2</text>
<text x="86.50" y="0.00" font-size="13.9" textLength="4.03" lengthAdjust="spacingAndGlyphs">]</text>
</g>
<text x="284.90" y="29.45" font-size="14.85">(2,0) original</text>
<text x="284.90" y="48.00" font-size="14.85">(2,0) rescaled</text>
<text x="284.90" y="66.55" font-size="14.85">(2,1,1)</text>
</g>
<g><path d="M265.30 20.43l3.69 6.03h-7.37z" fill="#fff"/><path d="M265.30 20.43l2.45 4.02h-4.91z" fill="#968c7e"/><path d="M265.30 20.43l3.69 6.03h-7.37z" fill="none" stroke="#3e3e3e" stroke-width="1"/><path d="M262.69 39.71l6.03 3.69l-6.03 3.69z" fill="#fff"/><path d="M262.69 39.71l6.03 3.69h-6.03z" fill="#c60a2a"/><path d="M262.69 39.71l6.03 3.69l-6.03 3.69z" fill="none" stroke="#3e3e3e" stroke-width="1"/><path d="M261.62 60.14h7.37l-3.69 6.03z" fill="#fff"/><path d="M261.62 60.14h7.37l-1.23 2.01h-4.91z" fill="#1a69c0"/><path d="M261.62 60.14h7.37l-3.69 6.03z" fill="none" stroke="#3e3e3e" stroke-width="1"/></g>
</svg>
</body></html>
